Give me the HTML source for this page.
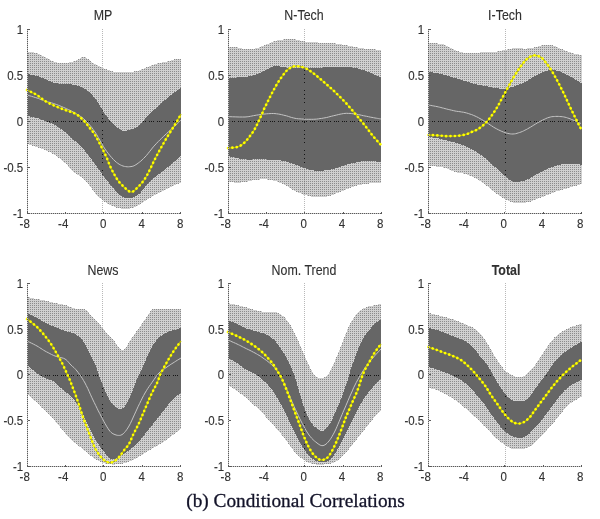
<!DOCTYPE html>
<html lang="en"><head><meta charset="utf-8"><title>Conditional Correlations</title>
<style>
html,body{margin:0;padding:0;background:#fff}
body{width:600px;height:519px;overflow:hidden}
svg{display:block}
.lb{fill:url(#dith);shape-rendering:crispEdges}
.db{fill:#666666;shape-rendering:crispEdges}
.zl{stroke:#151515;stroke-width:1;stroke-dasharray:1 1 1 1 1 3;shape-rendering:crispEdges}
.zv{stroke:#151515;stroke-width:1;stroke-dasharray:1 3 1 3 1 3 1 7;shape-rendering:crispEdges}
.vf{stroke:#000;stroke-opacity:.1;stroke-width:1;shape-rendering:crispEdges}
.vl{stroke:#000;stroke-opacity:.28;stroke-width:1;stroke-dasharray:1 1;shape-rendering:crispEdges}
.wl{fill:none;stroke:#c4c4c4;stroke-width:1}
.yl{fill:none;stroke:#b4b400;stroke-width:1.3;stroke-linejoin:round}
.yd{fill:none;stroke:#ffff00;stroke-width:2.7;stroke-linecap:round;stroke-linejoin:round;stroke-dasharray:0.01 4.4}
.ym{fill:#ffff00}
.ax{fill:none;stroke:#5a5a5a;stroke-width:1;stroke-dasharray:1 1;shape-rendering:crispEdges}
.au{fill:none;stroke:#c6c6c6;stroke-width:1;shape-rendering:crispEdges}
.tk{fill:none;stroke:#5a5a5a;stroke-width:1;shape-rendering:crispEdges}
.t{font-family:"Liberation Sans",sans-serif;font-size:11.5px;fill:#303030;stroke:#303030;stroke-width:.1}
.yt{text-anchor:end}
.xt{text-anchor:middle}
.ti{font-family:"Liberation Sans",sans-serif;font-size:12.4px;fill:#303030;stroke:#303030;stroke-width:.1;text-anchor:middle}
.b{font-weight:bold}
.cap{font-family:"Liberation Serif",serif;font-size:19.3px;fill:#121228;stroke:#121228;stroke-width:.3;text-anchor:middle}
</style></head><body>
<svg width="600" height="519" viewBox="0 0 600 519">
<defs><pattern id="dith" width="2" height="2" patternUnits="userSpaceOnUse"><rect width="2" height="2" fill="#d0d0d0"/><rect y="1" width="1" height="1" fill="#8c8c8c"/></pattern></defs>
<rect width="600" height="519" fill="#fff"/>
<g>
<line class="vl" x1="102.5" y1="29.0" x2="102.5" y2="213.0"/>
<polygon class="lb" points="27.0,52.0 28.1,52.1 29.7,52.1 31.5,52.2 33.4,52.4 35.3,52.6 37.0,53.0 38.4,53.5 39.7,54.1 41.0,54.8 42.3,55.5 43.6,56.2 45.0,57.0 46.6,57.8 48.2,58.7 49.9,59.7 51.6,60.6 53.3,61.4 55.0,62.0 56.7,62.4 58.3,62.7 60.0,62.9 61.7,63.0 63.3,63.1 65.0,63.0 66.7,62.9 68.4,62.6 70.1,62.3 71.7,61.9 73.4,61.5 75.0,61.0 76.6,60.3 78.1,59.4 79.6,58.5 81.0,57.7 82.5,57.1 84.0,57.0 85.5,57.4 87.0,58.3 88.4,59.4 89.9,60.7 91.4,61.9 93.0,63.0 94.6,63.9 96.3,64.8 97.9,65.7 99.6,66.5 101.3,67.3 103.0,68.0 104.7,68.7 106.4,69.4 108.1,70.0 109.8,70.6 111.4,71.1 113.0,71.5 114.4,71.8 115.6,71.9 116.8,72.0 118.0,72.0 119.3,72.0 121.0,72.0 123.0,72.0 125.4,72.0 127.9,71.9 130.4,71.8 132.8,71.7 135.0,71.4 136.9,71.0 138.6,70.5 140.2,69.9 141.8,69.3 143.4,68.6 145.0,68.0 146.7,67.3 148.3,66.6 150.0,65.9 151.7,65.2 153.3,64.6 155.0,64.0 156.7,63.6 158.3,63.2 160.0,62.9 161.7,62.6 163.3,62.3 165.0,62.0 166.7,61.6 168.5,61.1 170.2,60.6 172.0,60.1 173.6,59.7 175.0,59.4 176.3,59.2 177.5,59.1 178.6,59.0 179.6,59.0 180.4,59.0 181.0,59.0 181.0,183.0 180.4,183.2 179.6,183.4 178.6,183.7 177.5,184.0 176.3,184.5 175.0,185.0 173.6,185.7 172.0,186.4 170.2,187.3 168.5,188.2 166.7,189.1 165.0,190.0 163.3,190.8 161.7,191.6 160.0,192.4 158.3,193.3 156.7,194.1 155.0,195.0 153.3,195.9 151.7,196.9 150.0,197.9 148.3,199.0 146.7,200.0 145.0,201.0 143.3,202.0 141.7,203.1 140.0,204.2 138.3,205.3 136.7,206.2 135.0,207.0 133.3,207.6 131.7,208.1 130.0,208.5 128.3,208.8 126.7,208.9 125.0,209.0 123.3,208.9 121.7,208.7 120.0,208.4 118.3,208.0 116.7,207.6 115.0,207.0 113.3,206.4 111.7,205.7 110.0,204.9 108.3,204.1 106.7,203.1 105.0,202.0 103.3,200.8 101.7,199.4 100.0,198.0 98.3,196.4 96.7,194.8 95.0,193.0 93.3,191.0 91.7,188.7 90.0,186.4 88.3,184.0 86.7,181.9 85.0,180.0 83.3,178.5 81.7,177.3 80.0,176.3 78.3,175.3 76.7,174.3 75.0,173.0 73.3,171.5 71.7,169.8 70.0,168.1 68.3,166.3 66.7,164.6 65.0,163.0 63.3,161.5 61.7,160.1 60.0,158.7 58.3,157.4 56.7,156.1 55.0,155.0 53.3,154.0 51.6,153.0 49.9,152.2 48.2,151.4 46.6,150.7 45.0,150.0 43.6,149.4 42.3,148.9 41.0,148.4 39.7,147.9 38.4,147.5 37.0,147.0 35.3,146.5 33.4,145.9 31.5,145.3 29.7,144.8 28.1,144.3 27.0,144.0"/>
<line class="vf" x1="102.5" y1="68.6" x2="102.5" y2="198.7"/>
<polygon class="db" points="27.0,74.0 28.1,74.2 29.7,74.5 31.5,74.8 33.4,75.2 35.3,75.6 37.0,76.0 38.4,76.4 39.7,76.9 41.0,77.4 42.3,77.9 43.6,78.4 45.0,79.0 46.6,79.6 48.2,80.4 49.9,81.1 51.6,81.9 53.3,82.5 55.0,83.0 56.7,83.3 58.3,83.6 60.0,83.7 61.7,83.8 63.3,83.9 65.0,84.0 66.7,84.1 68.3,84.2 70.0,84.3 71.7,84.4 73.3,84.7 75.0,85.0 76.7,85.5 78.4,86.0 80.1,86.6 81.8,87.3 83.4,88.1 85.0,89.0 86.5,90.0 87.9,91.1 89.2,92.2 90.6,93.5 91.8,94.7 93.0,96.0 94.1,97.3 95.2,98.6 96.2,99.9 97.1,101.2 98.1,102.6 99.0,104.0 99.9,105.5 100.8,107.1 101.6,108.7 102.4,110.3 103.2,111.7 104.0,113.0 104.7,114.1 105.4,114.9 106.0,115.7 106.6,116.4 107.3,117.2 108.0,118.0 108.7,118.9 109.5,119.9 110.2,120.9 111.1,122.0 112.0,123.0 113.0,124.0 114.2,125.1 115.5,126.2 116.9,127.3 118.4,128.4 119.7,129.3 121.0,130.0 122.1,130.5 123.0,130.8 123.9,130.9 124.8,130.9 125.8,130.8 127.0,130.6 128.5,130.3 130.1,129.9 131.9,129.3 133.7,128.7 135.4,127.9 137.0,127.0 138.5,125.9 140.0,124.5 141.4,123.0 142.7,121.5 143.9,120.2 145.0,119.0 145.9,118.1 146.6,117.4 147.1,116.9 147.7,116.3 148.3,115.7 149.0,115.0 149.8,114.2 150.7,113.3 151.6,112.3 152.6,111.3 153.7,110.2 155.0,109.0 156.4,107.7 158.0,106.2 159.8,104.6 161.5,103.0 163.3,101.5 165.0,100.0 166.7,98.6 168.5,97.1 170.2,95.7 172.0,94.3 173.6,93.1 175.0,92.0 176.3,91.1 177.5,90.2 178.6,89.5 179.6,88.9 180.4,88.4 181.0,88.0 181.0,156.0 180.4,156.5 179.6,157.2 178.6,158.0 177.5,158.9 176.3,159.9 175.0,161.0 173.6,162.2 172.0,163.6 170.2,165.1 168.5,166.6 166.7,168.1 165.0,169.5 163.3,170.8 161.7,172.0 160.0,173.2 158.3,174.4 156.7,175.6 155.0,177.0 153.3,178.6 151.5,180.3 149.8,182.0 148.0,183.8 146.4,185.5 145.0,187.0 143.8,188.4 142.8,189.7 141.9,190.9 141.0,192.0 140.1,193.0 139.0,194.0 137.8,194.9 136.5,195.7 135.1,196.5 133.7,197.1 132.4,197.7 131.0,198.0 129.7,198.2 128.3,198.3 127.0,198.2 125.7,198.0 124.3,197.6 123.0,197.0 121.7,196.2 120.4,195.3 119.1,194.2 117.8,192.9 116.4,191.5 115.0,190.0 113.4,188.3 111.8,186.4 110.1,184.4 108.4,182.3 106.7,180.2 105.0,178.0 103.3,175.8 101.7,173.4 100.0,171.1 98.3,168.7 96.7,166.3 95.0,164.0 93.3,161.7 91.7,159.5 90.0,157.2 88.3,155.1 86.7,153.0 85.0,151.0 83.3,149.1 81.7,147.4 80.0,145.8 78.3,144.1 76.7,142.6 75.0,141.0 73.3,139.4 71.7,137.9 70.0,136.3 68.3,134.8 66.7,133.4 65.0,132.0 63.3,130.7 61.7,129.4 60.0,128.2 58.3,127.0 56.7,126.0 55.0,125.0 53.3,124.1 51.6,123.4 49.9,122.8 48.2,122.1 46.6,121.6 45.0,121.0 43.6,120.4 42.3,119.9 41.0,119.4 39.7,118.9 38.4,118.4 37.0,118.0 35.3,117.6 33.4,117.2 31.5,116.8 29.7,116.5 28.1,116.2 27.0,116.0"/>
<clipPath id="c1"><polygon points="27.0,74.0 28.1,74.2 29.7,74.5 31.5,74.8 33.4,75.2 35.3,75.6 37.0,76.0 38.4,76.4 39.7,76.9 41.0,77.4 42.3,77.9 43.6,78.4 45.0,79.0 46.6,79.6 48.2,80.4 49.9,81.1 51.6,81.9 53.3,82.5 55.0,83.0 56.7,83.3 58.3,83.6 60.0,83.7 61.7,83.8 63.3,83.9 65.0,84.0 66.7,84.1 68.3,84.2 70.0,84.3 71.7,84.4 73.3,84.7 75.0,85.0 76.7,85.5 78.4,86.0 80.1,86.6 81.8,87.3 83.4,88.1 85.0,89.0 86.5,90.0 87.9,91.1 89.2,92.2 90.6,93.5 91.8,94.7 93.0,96.0 94.1,97.3 95.2,98.6 96.2,99.9 97.1,101.2 98.1,102.6 99.0,104.0 99.9,105.5 100.8,107.1 101.6,108.7 102.4,110.3 103.2,111.7 104.0,113.0 104.7,114.1 105.4,114.9 106.0,115.7 106.6,116.4 107.3,117.2 108.0,118.0 108.7,118.9 109.5,119.9 110.2,120.9 111.1,122.0 112.0,123.0 113.0,124.0 114.2,125.1 115.5,126.2 116.9,127.3 118.4,128.4 119.7,129.3 121.0,130.0 122.1,130.5 123.0,130.8 123.9,130.9 124.8,130.9 125.8,130.8 127.0,130.6 128.5,130.3 130.1,129.9 131.9,129.3 133.7,128.7 135.4,127.9 137.0,127.0 138.5,125.9 140.0,124.5 141.4,123.0 142.7,121.5 143.9,120.2 145.0,119.0 145.9,118.1 146.6,117.4 147.1,116.9 147.7,116.3 148.3,115.7 149.0,115.0 149.8,114.2 150.7,113.3 151.6,112.3 152.6,111.3 153.7,110.2 155.0,109.0 156.4,107.7 158.0,106.2 159.8,104.6 161.5,103.0 163.3,101.5 165.0,100.0 166.7,98.6 168.5,97.1 170.2,95.7 172.0,94.3 173.6,93.1 175.0,92.0 176.3,91.1 177.5,90.2 178.6,89.5 179.6,88.9 180.4,88.4 181.0,88.0 181.0,156.0 180.4,156.5 179.6,157.2 178.6,158.0 177.5,158.9 176.3,159.9 175.0,161.0 173.6,162.2 172.0,163.6 170.2,165.1 168.5,166.6 166.7,168.1 165.0,169.5 163.3,170.8 161.7,172.0 160.0,173.2 158.3,174.4 156.7,175.6 155.0,177.0 153.3,178.6 151.5,180.3 149.8,182.0 148.0,183.8 146.4,185.5 145.0,187.0 143.8,188.4 142.8,189.7 141.9,190.9 141.0,192.0 140.1,193.0 139.0,194.0 137.8,194.9 136.5,195.7 135.1,196.5 133.7,197.1 132.4,197.7 131.0,198.0 129.7,198.2 128.3,198.3 127.0,198.2 125.7,198.0 124.3,197.6 123.0,197.0 121.7,196.2 120.4,195.3 119.1,194.2 117.8,192.9 116.4,191.5 115.0,190.0 113.4,188.3 111.8,186.4 110.1,184.4 108.4,182.3 106.7,180.2 105.0,178.0 103.3,175.8 101.7,173.4 100.0,171.1 98.3,168.7 96.7,166.3 95.0,164.0 93.3,161.7 91.7,159.5 90.0,157.2 88.3,155.1 86.7,153.0 85.0,151.0 83.3,149.1 81.7,147.4 80.0,145.8 78.3,144.1 76.7,142.6 75.0,141.0 73.3,139.4 71.7,137.9 70.0,136.3 68.3,134.8 66.7,133.4 65.0,132.0 63.3,130.7 61.7,129.4 60.0,128.2 58.3,127.0 56.7,126.0 55.0,125.0 53.3,124.1 51.6,123.4 49.9,122.8 48.2,122.1 46.6,121.6 45.0,121.0 43.6,120.4 42.3,119.9 41.0,119.4 39.7,118.9 38.4,118.4 37.0,118.0 35.3,117.6 33.4,117.2 31.5,116.8 29.7,116.5 28.1,116.2 27.0,116.0"/></clipPath>
<g clip-path="url(#c1)"><line class="zl" x1="29.0" y1="121.5" x2="181.0" y2="121.5"/><line class="zv" x1="102.5" y1="30.0" x2="102.5" y2="213.0"/></g>
<polyline class="wl" points="27.0,95.0 28.1,95.3 29.7,95.8 31.5,96.3 33.4,96.9 35.3,97.5 37.0,98.0 38.4,98.5 39.7,99.0 41.0,99.5 42.3,100.0 43.6,100.5 45.0,101.0 46.6,101.5 48.2,102.0 49.9,102.4 51.6,102.9 53.3,103.4 55.0,104.0 56.7,104.6 58.3,105.2 60.0,105.9 61.7,106.6 63.3,107.3 65.0,108.0 66.7,108.8 68.3,109.5 70.0,110.3 71.7,111.1 73.3,112.0 75.0,113.0 76.7,114.0 78.3,115.0 80.0,116.1 81.7,117.2 83.3,118.5 85.0,120.0 86.7,121.7 88.3,123.4 90.0,125.4 91.7,127.4 93.3,129.7 95.0,132.0 96.7,134.6 98.3,137.5 100.0,140.5 101.7,143.5 103.3,146.4 105.0,149.0 106.7,151.4 108.4,153.6 110.1,155.8 111.8,157.7 113.4,159.5 115.0,161.0 116.4,162.3 117.8,163.3 119.1,164.2 120.4,164.9 121.7,165.5 123.0,166.0 124.4,166.4 125.7,166.6 127.1,166.8 128.5,166.8 129.8,166.7 131.0,166.6 132.1,166.4 133.1,166.1 134.0,165.8 134.9,165.3 135.9,164.7 137.0,164.0 138.2,163.1 139.4,162.2 140.8,161.1 142.1,159.9 143.5,158.5 145.0,157.0 146.6,155.3 148.2,153.3 149.9,151.2 151.6,149.0 153.3,146.9 155.0,145.0 156.7,143.2 158.3,141.5 160.0,139.8 161.7,138.2 163.3,136.6 165.0,135.0 166.7,133.4 168.5,131.8 170.2,130.2 172.0,128.7 173.6,127.3 175.0,126.0 176.3,124.8 177.5,123.6 178.6,122.4 179.6,121.4 180.4,120.6 181.0,120.0"/>
<polyline class="yl" points="27.0,90.0 28.1,90.5 29.7,91.3 31.5,92.1 33.4,93.1 35.3,94.1 37.0,95.0 38.4,96.0 39.7,97.0 41.0,98.0 42.3,99.0 43.6,100.0 45.0,101.0 46.6,101.9 48.2,102.8 49.9,103.6 51.6,104.4 53.3,105.2 55.0,106.0 56.7,106.7 58.3,107.4 60.0,108.1 61.7,108.7 63.3,109.4 65.0,110.0 66.7,110.6 68.5,111.2 70.2,111.7 72.0,112.3 73.6,112.9 75.0,113.5 76.3,114.2 77.4,114.9 78.4,115.7 79.3,116.5 80.2,117.3 81.0,118.0 81.8,118.7 82.5,119.3 83.1,120.0 83.7,120.6 84.4,121.3 85.0,122.0 85.6,122.7 86.3,123.5 86.9,124.2 87.5,125.1 88.2,126.0 89.0,127.0 89.8,128.0 90.7,129.0 91.6,130.1 92.6,131.4 93.7,133.0 95.0,135.0 96.5,137.6 98.2,140.7 100.0,144.1 101.8,147.6 103.5,151.0 105.0,154.0 106.2,156.7 107.3,159.1 108.2,161.5 109.1,163.7 110.0,165.9 111.0,168.0 112.0,170.1 113.0,172.0 114.0,173.9 115.0,175.7 116.0,177.4 117.0,179.0 118.0,180.4 118.9,181.7 119.9,182.8 120.9,183.9 121.9,184.9 123.0,186.0 124.2,187.2 125.6,188.5 126.9,189.8 128.3,190.9 129.7,191.6 131.0,192.0 132.2,191.9 133.4,191.3 134.5,190.5 135.6,189.4 136.8,188.2 138.0,187.0 139.3,185.7 140.5,184.4 141.8,182.9 143.1,181.3 144.5,179.3 146.0,177.0 147.6,174.2 149.2,171.0 150.9,167.5 152.6,163.9 154.3,160.3 156.0,157.0 157.7,153.9 159.3,150.8 161.0,147.8 162.7,144.8 164.3,141.9 166.0,139.0 167.7,136.1 169.5,133.3 171.3,130.4 173.0,127.7 174.6,125.2 176.0,123.0 177.2,121.0 178.2,119.1 179.1,117.5 179.9,116.1 180.5,114.9 181.0,114.0"/>
<polyline class="yd" points="27.0,90.0 28.1,90.5 29.7,91.3 31.5,92.1 33.4,93.1 35.3,94.1 37.0,95.0 38.4,96.0 39.7,97.0 41.0,98.0 42.3,99.0 43.6,100.0 45.0,101.0 46.6,101.9 48.2,102.8 49.9,103.6 51.6,104.4 53.3,105.2 55.0,106.0 56.7,106.7 58.3,107.4 60.0,108.1 61.7,108.7 63.3,109.4 65.0,110.0 66.7,110.6 68.5,111.2 70.2,111.7 72.0,112.3 73.6,112.9 75.0,113.5 76.3,114.2 77.4,114.9 78.4,115.7 79.3,116.5 80.2,117.3 81.0,118.0 81.8,118.7 82.5,119.3 83.1,120.0 83.7,120.6 84.4,121.3 85.0,122.0 85.6,122.7 86.3,123.5 86.9,124.2 87.5,125.1 88.2,126.0 89.0,127.0 89.8,128.0 90.7,129.0 91.6,130.1 92.6,131.4 93.7,133.0 95.0,135.0 96.5,137.6 98.2,140.7 100.0,144.1 101.8,147.6 103.5,151.0 105.0,154.0 106.2,156.7 107.3,159.1 108.2,161.5 109.1,163.7 110.0,165.9 111.0,168.0 112.0,170.1 113.0,172.0 114.0,173.9 115.0,175.7 116.0,177.4 117.0,179.0 118.0,180.4 118.9,181.7 119.9,182.8 120.9,183.9 121.9,184.9 123.0,186.0 124.2,187.2 125.6,188.5 126.9,189.8 128.3,190.9 129.7,191.6 131.0,192.0 132.2,191.9 133.4,191.3 134.5,190.5 135.6,189.4 136.8,188.2 138.0,187.0 139.3,185.7 140.5,184.4 141.8,182.9 143.1,181.3 144.5,179.3 146.0,177.0 147.6,174.2 149.2,171.0 150.9,167.5 152.6,163.9 154.3,160.3 156.0,157.0 157.7,153.9 159.3,150.8 161.0,147.8 162.7,144.8 164.3,141.9 166.0,139.0 167.7,136.1 169.5,133.3 171.3,130.4 173.0,127.7 174.6,125.2 176.0,123.0 177.2,121.0 178.2,119.1 179.1,117.5 179.9,116.1 180.5,114.9 181.0,114.0"/>
<path class="au" d="M27.5 29.0V213.5H180.8"/>
<path class="ax" d="M27.5 29.0V213.5H180.8"/>
<path class="tk" d="M27.5 213.5v-2M27.5 29.5h2M65.5 213.5v-2M27.5 75.5h2M103.5 213.5v-2M27.5 121.5h2M142.5 213.5v-2M27.5 167.5h2M180.5 213.5v-2M27.5 213.5h2"/>
<text class="t yt" transform="translate(23.2 33.9) scale(1 1.14)">1</text>
<text class="t yt" transform="translate(23.2 79.9) scale(1 1.14)">0.5</text>
<text class="t yt" transform="translate(23.2 125.9) scale(1 1.14)">0</text>
<text class="t yt" transform="translate(23.2 171.9) scale(1 1.14)">-0.5</text>
<text class="t yt" transform="translate(23.2 217.9) scale(1 1.14)">-1</text>
<text class="t xt" transform="translate(24.7 228.0) scale(1 1.14)">-8</text>
<text class="t xt" transform="translate(63.2 228.0) scale(1 1.14)">-4</text>
<text class="t xt" transform="translate(103.2 228.0) scale(1 1.14)">0</text>
<text class="t xt" transform="translate(141.7 228.0) scale(1 1.14)">4</text>
<text class="t xt" transform="translate(180.2 228.0) scale(1 1.14)">8</text>
<text class="ti" transform="translate(103.0 20.1) scale(1 1.22)">MP</text>
</g>
<g>
<line class="vl" x1="304.5" y1="29.0" x2="304.5" y2="213.0"/>
<polygon class="lb" points="228.0,47.0 229.0,47.0 230.4,47.1 232.0,47.1 233.7,47.2 235.5,47.3 237.0,47.4 238.4,47.6 239.7,47.9 240.9,48.2 242.2,48.6 243.6,48.8 245.0,49.0 246.6,49.1 248.2,49.1 249.9,49.1 251.6,49.0 253.3,48.9 255.0,48.6 256.7,48.2 258.3,47.7 260.0,47.0 261.7,46.3 263.3,45.7 265.0,45.0 266.7,44.3 268.3,43.6 270.0,42.9 271.7,42.2 273.3,41.5 275.0,41.0 276.7,40.6 278.3,40.2 280.0,39.9 281.7,39.7 283.3,39.5 285.0,39.4 286.7,39.3 288.3,39.2 290.0,39.2 291.7,39.2 293.3,39.3 295.0,39.4 296.7,39.6 298.3,40.0 300.0,40.4 301.7,40.8 303.3,41.2 305.0,41.5 306.7,41.7 308.3,41.9 310.0,42.0 311.7,42.1 313.3,42.2 315.0,42.3 316.7,42.4 318.3,42.5 320.0,42.6 321.7,42.6 323.3,42.7 325.0,42.8 326.7,42.9 328.3,43.0 330.0,43.0 331.7,43.1 333.3,43.2 335.0,43.4 336.7,43.6 338.3,43.8 340.0,44.1 341.7,44.4 343.3,44.7 345.0,45.0 346.7,45.3 348.3,45.7 350.0,46.0 351.7,46.3 353.3,46.7 355.0,47.0 356.7,47.3 358.3,47.6 360.0,47.9 361.7,48.1 363.3,48.4 365.0,48.6 366.7,48.8 368.5,48.9 370.2,49.1 372.0,49.2 373.6,49.3 375.0,49.4 376.3,49.5 377.5,49.6 378.6,49.8 379.6,49.9 380.4,49.9 381.0,50.0 381.0,183.0 380.4,183.0 379.6,183.0 378.6,182.9 377.5,182.9 376.3,182.9 375.0,183.0 373.6,183.1 372.0,183.2 370.2,183.4 368.5,183.6 366.7,183.8 365.0,184.0 363.3,184.3 361.7,184.5 360.0,184.8 358.3,185.1 356.7,185.5 355.0,186.0 353.3,186.6 351.7,187.2 350.0,187.9 348.3,188.6 346.7,189.3 345.0,190.0 343.3,190.7 341.7,191.4 340.0,192.1 338.3,192.7 336.7,193.4 335.0,194.0 333.3,194.6 331.7,195.2 330.0,195.7 328.3,196.2 326.7,196.7 325.0,197.0 323.3,197.2 321.7,197.4 320.0,197.4 318.3,197.4 316.7,197.3 315.0,197.2 313.3,197.0 311.7,196.7 310.0,196.4 308.3,196.0 306.7,195.5 305.0,195.0 303.3,194.5 301.7,193.9 300.0,193.2 298.3,192.5 296.7,191.8 295.0,191.0 293.3,190.1 291.7,189.1 290.0,188.0 288.3,186.9 286.7,185.9 285.0,185.0 283.3,184.2 281.7,183.4 280.0,182.7 278.3,182.1 276.7,181.5 275.0,181.0 273.3,180.6 271.7,180.2 270.0,179.9 268.3,179.7 266.7,179.5 265.0,179.4 263.3,179.4 261.7,179.4 260.0,179.5 258.3,179.6 256.7,179.8 255.0,180.0 253.3,180.3 251.6,180.6 249.9,181.0 248.2,181.4 246.6,181.7 245.0,182.0 243.6,182.2 242.2,182.3 240.9,182.5 239.7,182.5 238.4,182.6 237.0,182.6 235.5,182.6 233.7,182.5 232.0,182.3 230.4,182.2 229.0,182.1 228.0,182.0"/>
<line class="vf" x1="304.5" y1="42.3" x2="304.5" y2="193.7"/>
<polygon class="db" points="228.0,78.0 229.0,77.9 230.4,77.9 232.0,77.8 233.7,77.7 235.5,77.6 237.0,77.5 238.4,77.4 239.7,77.4 240.9,77.3 242.2,77.3 243.6,77.2 245.0,77.0 246.6,76.8 248.2,76.5 249.9,76.2 251.6,75.9 253.3,75.5 255.0,75.0 256.7,74.4 258.3,73.7 260.0,72.9 261.7,72.1 263.3,71.3 265.0,70.5 266.7,69.7 268.3,68.8 270.0,67.9 271.7,67.1 273.3,66.4 275.0,66.0 276.7,65.9 278.3,66.1 280.0,66.4 281.7,66.8 283.3,67.1 285.0,67.4 286.7,67.6 288.3,67.7 290.0,67.8 291.7,67.9 293.3,67.9 295.0,68.0 296.7,68.0 298.3,68.0 300.0,68.0 301.7,68.0 303.3,68.0 305.0,68.0 306.7,68.0 308.3,68.0 310.0,68.0 311.7,68.0 313.3,68.0 315.0,68.0 316.7,67.9 318.3,67.9 320.0,67.8 321.7,67.6 323.3,67.5 325.0,67.4 326.7,67.3 328.3,67.1 330.0,67.0 331.7,66.8 333.3,66.7 335.0,66.6 336.7,66.5 338.3,66.5 340.0,66.5 341.7,66.5 343.3,66.5 345.0,66.6 346.7,66.7 348.3,66.9 350.0,67.1 351.7,67.4 353.3,67.7 355.0,68.0 356.7,68.3 358.3,68.7 360.0,69.1 361.7,69.6 363.3,70.0 365.0,70.6 366.7,71.3 368.5,72.0 370.2,72.8 372.0,73.6 373.6,74.4 375.0,75.0 376.3,75.5 377.5,76.0 378.6,76.5 379.6,76.9 380.4,77.2 381.0,77.4 381.0,162.0 380.4,161.9 379.6,161.8 378.6,161.7 377.5,161.6 376.3,161.5 375.0,161.4 373.6,161.3 372.0,161.2 370.2,161.1 368.5,161.0 366.7,160.9 365.0,161.0 363.3,161.1 361.7,161.4 360.0,161.6 358.3,161.9 356.7,162.3 355.0,162.6 353.3,162.9 351.7,163.3 350.0,163.7 348.3,164.1 346.7,164.5 345.0,165.0 343.3,165.6 341.7,166.2 340.0,166.8 338.3,167.5 336.7,168.1 335.0,168.6 333.3,169.0 331.7,169.4 330.0,169.7 328.3,170.0 326.7,170.2 325.0,170.4 323.3,170.6 321.7,170.7 320.0,170.8 318.3,170.8 316.7,170.7 315.0,170.6 313.3,170.4 311.7,170.1 310.0,169.7 308.3,169.3 306.7,168.8 305.0,168.3 303.3,167.7 301.7,167.1 300.0,166.5 298.3,165.8 296.7,165.1 295.0,164.5 293.3,163.9 291.7,163.3 290.0,162.7 288.3,162.1 286.7,161.6 285.0,161.2 283.3,160.9 281.7,160.6 280.0,160.4 278.3,160.3 276.7,160.1 275.0,160.0 273.3,159.9 271.7,159.7 270.0,159.6 268.3,159.5 266.7,159.5 265.0,159.4 263.3,159.4 261.7,159.4 260.0,159.4 258.3,159.4 256.7,159.4 255.0,159.4 253.3,159.4 251.6,159.5 249.9,159.5 248.2,159.5 246.6,159.5 245.0,159.4 243.6,159.3 242.2,159.1 240.9,158.8 239.7,158.6 238.4,158.3 237.0,158.0 235.5,157.7 233.7,157.3 232.0,156.9 230.4,156.5 229.0,156.2 228.0,156.0"/>
<clipPath id="c2"><polygon points="228.0,78.0 229.0,77.9 230.4,77.9 232.0,77.8 233.7,77.7 235.5,77.6 237.0,77.5 238.4,77.4 239.7,77.4 240.9,77.3 242.2,77.3 243.6,77.2 245.0,77.0 246.6,76.8 248.2,76.5 249.9,76.2 251.6,75.9 253.3,75.5 255.0,75.0 256.7,74.4 258.3,73.7 260.0,72.9 261.7,72.1 263.3,71.3 265.0,70.5 266.7,69.7 268.3,68.8 270.0,67.9 271.7,67.1 273.3,66.4 275.0,66.0 276.7,65.9 278.3,66.1 280.0,66.4 281.7,66.8 283.3,67.1 285.0,67.4 286.7,67.6 288.3,67.7 290.0,67.8 291.7,67.9 293.3,67.9 295.0,68.0 296.7,68.0 298.3,68.0 300.0,68.0 301.7,68.0 303.3,68.0 305.0,68.0 306.7,68.0 308.3,68.0 310.0,68.0 311.7,68.0 313.3,68.0 315.0,68.0 316.7,67.9 318.3,67.9 320.0,67.8 321.7,67.6 323.3,67.5 325.0,67.4 326.7,67.3 328.3,67.1 330.0,67.0 331.7,66.8 333.3,66.7 335.0,66.6 336.7,66.5 338.3,66.5 340.0,66.5 341.7,66.5 343.3,66.5 345.0,66.6 346.7,66.7 348.3,66.9 350.0,67.1 351.7,67.4 353.3,67.7 355.0,68.0 356.7,68.3 358.3,68.7 360.0,69.1 361.7,69.6 363.3,70.0 365.0,70.6 366.7,71.3 368.5,72.0 370.2,72.8 372.0,73.6 373.6,74.4 375.0,75.0 376.3,75.5 377.5,76.0 378.6,76.5 379.6,76.9 380.4,77.2 381.0,77.4 381.0,162.0 380.4,161.9 379.6,161.8 378.6,161.7 377.5,161.6 376.3,161.5 375.0,161.4 373.6,161.3 372.0,161.2 370.2,161.1 368.5,161.0 366.7,160.9 365.0,161.0 363.3,161.1 361.7,161.4 360.0,161.6 358.3,161.9 356.7,162.3 355.0,162.6 353.3,162.9 351.7,163.3 350.0,163.7 348.3,164.1 346.7,164.5 345.0,165.0 343.3,165.6 341.7,166.2 340.0,166.8 338.3,167.5 336.7,168.1 335.0,168.6 333.3,169.0 331.7,169.4 330.0,169.7 328.3,170.0 326.7,170.2 325.0,170.4 323.3,170.6 321.7,170.7 320.0,170.8 318.3,170.8 316.7,170.7 315.0,170.6 313.3,170.4 311.7,170.1 310.0,169.7 308.3,169.3 306.7,168.8 305.0,168.3 303.3,167.7 301.7,167.1 300.0,166.5 298.3,165.8 296.7,165.1 295.0,164.5 293.3,163.9 291.7,163.3 290.0,162.7 288.3,162.1 286.7,161.6 285.0,161.2 283.3,160.9 281.7,160.6 280.0,160.4 278.3,160.3 276.7,160.1 275.0,160.0 273.3,159.9 271.7,159.7 270.0,159.6 268.3,159.5 266.7,159.5 265.0,159.4 263.3,159.4 261.7,159.4 260.0,159.4 258.3,159.4 256.7,159.4 255.0,159.4 253.3,159.4 251.6,159.5 249.9,159.5 248.2,159.5 246.6,159.5 245.0,159.4 243.6,159.3 242.2,159.1 240.9,158.8 239.7,158.6 238.4,158.3 237.0,158.0 235.5,157.7 233.7,157.3 232.0,156.9 230.4,156.5 229.0,156.2 228.0,156.0"/></clipPath>
<g clip-path="url(#c2)"><line class="zl" x1="230.0" y1="121.5" x2="381.0" y2="121.5"/><line class="zv" x1="304.5" y1="30.0" x2="304.5" y2="213.0"/></g>
<polyline class="wl" points="228.0,116.6 229.9,116.7 232.7,116.8 235.9,116.9 239.2,117.0 242.4,117.0 245.0,117.0 247.1,116.8 248.9,116.6 250.4,116.3 251.9,116.0 253.4,115.7 255.0,115.4 256.7,115.1 258.3,114.9 260.0,114.6 261.7,114.4 263.3,114.2 265.0,114.0 266.7,113.8 268.3,113.7 270.0,113.6 271.7,113.5 273.3,113.5 275.0,113.6 276.7,113.8 278.3,114.0 280.0,114.3 281.7,114.7 283.3,115.1 285.0,115.5 286.7,115.9 288.3,116.4 290.0,117.0 291.7,117.5 293.3,117.9 295.0,118.3 296.7,118.6 298.3,118.8 300.0,118.9 301.7,119.0 303.3,119.1 305.0,119.2 306.7,119.3 308.3,119.3 310.0,119.3 311.7,119.3 313.3,119.3 315.0,119.2 316.7,119.1 318.3,118.9 320.0,118.6 321.7,118.4 323.3,118.1 325.0,117.8 326.7,117.5 328.3,117.1 330.0,116.6 331.7,116.2 333.3,115.8 335.0,115.4 336.7,115.0 338.3,114.6 340.0,114.2 341.7,113.9 343.3,113.6 345.0,113.4 346.7,113.3 348.3,113.4 350.0,113.4 351.7,113.6 353.3,113.8 355.0,114.0 356.7,114.3 358.3,114.6 360.0,114.9 361.7,115.3 363.3,115.7 365.0,116.0 366.7,116.3 368.5,116.7 370.2,117.1 372.0,117.4 373.6,117.7 375.0,118.0 376.3,118.2 377.5,118.4 378.6,118.6 379.6,118.8 380.4,118.9 381.0,119.0"/>
<polyline class="yl" points="228.0,148.0 228.8,147.9 229.9,147.9 231.2,147.8 232.6,147.7 233.9,147.6 235.0,147.4 235.9,147.2 236.8,147.1 237.6,146.9 238.4,146.7 239.2,146.4 240.0,146.0 240.8,145.5 241.7,144.9 242.5,144.3 243.3,143.6 244.2,142.8 245.0,142.0 245.8,141.1 246.7,140.2 247.5,139.2 248.3,138.2 249.2,137.1 250.0,136.0 250.8,134.9 251.6,133.8 252.4,132.7 253.3,131.4 254.1,130.1 255.0,128.5 256.0,126.7 257.0,124.6 258.1,122.3 259.1,120.1 260.1,117.9 261.0,116.0 261.8,114.3 262.4,112.9 263.0,111.5 263.6,110.1 264.2,108.6 265.0,107.0 265.9,105.2 266.9,103.2 267.9,101.1 268.9,99.0 270.0,97.0 271.0,95.0 272.0,93.1 272.9,91.3 273.9,89.5 274.9,87.7 275.9,85.9 277.0,84.0 278.2,82.0 279.6,80.0 281.0,77.9 282.4,75.9 283.8,74.1 285.0,72.5 286.1,71.2 287.1,70.2 288.1,69.3 289.1,68.6 290.0,68.0 291.0,67.4 292.0,66.9 292.9,66.6 293.9,66.4 294.9,66.2 295.9,66.2 297.0,66.2 298.2,66.3 299.5,66.5 300.9,66.7 302.3,67.1 303.6,67.5 305.0,68.0 306.3,68.6 307.7,69.4 309.0,70.2 310.3,71.1 311.7,72.0 313.0,73.0 314.3,74.0 315.7,75.0 317.0,76.1 318.3,77.2 319.7,78.4 321.0,79.5 322.4,80.7 323.7,81.9 325.1,83.1 326.5,84.3 327.8,85.4 329.0,86.5 330.1,87.5 331.0,88.3 331.9,89.1 332.8,89.9 333.8,90.8 335.0,92.0 336.4,93.4 338.0,94.9 339.8,96.6 341.5,98.4 343.3,100.2 345.0,102.0 346.7,103.8 348.3,105.7 350.0,107.6 351.7,109.6 353.3,111.5 355.0,113.5 356.7,115.5 358.4,117.5 360.1,119.6 361.8,121.6 363.4,123.6 365.0,125.5 366.4,127.4 367.8,129.2 369.1,130.9 370.4,132.7 371.7,134.4 373.0,136.0 374.4,137.7 376.0,139.4 377.5,141.2 378.9,142.7 380.1,144.0 381.0,145.0"/>
<polyline class="yd" points="228.0,148.0 228.8,147.9 229.9,147.9 231.2,147.8 232.6,147.7 233.9,147.6 235.0,147.4 235.9,147.2 236.8,147.1 237.6,146.9 238.4,146.7 239.2,146.4 240.0,146.0 240.8,145.5 241.7,144.9 242.5,144.3 243.3,143.6 244.2,142.8 245.0,142.0 245.8,141.1 246.7,140.2 247.5,139.2 248.3,138.2 249.2,137.1 250.0,136.0 250.8,134.9 251.6,133.8 252.4,132.7 253.3,131.4 254.1,130.1 255.0,128.5 256.0,126.7 257.0,124.6 258.1,122.3 259.1,120.1 260.1,117.9 261.0,116.0 261.8,114.3 262.4,112.9 263.0,111.5 263.6,110.1 264.2,108.6 265.0,107.0 265.9,105.2 266.9,103.2 267.9,101.1 268.9,99.0 270.0,97.0 271.0,95.0 272.0,93.1 272.9,91.3 273.9,89.5 274.9,87.7 275.9,85.9 277.0,84.0 278.2,82.0 279.6,80.0 281.0,77.9 282.4,75.9 283.8,74.1 285.0,72.5 286.1,71.2 287.1,70.2 288.1,69.3 289.1,68.6 290.0,68.0 291.0,67.4 292.0,66.9 292.9,66.6 293.9,66.4 294.9,66.2 295.9,66.2 297.0,66.2 298.2,66.3 299.5,66.5 300.9,66.7 302.3,67.1 303.6,67.5 305.0,68.0 306.3,68.6 307.7,69.4 309.0,70.2 310.3,71.1 311.7,72.0 313.0,73.0 314.3,74.0 315.7,75.0 317.0,76.1 318.3,77.2 319.7,78.4 321.0,79.5 322.4,80.7 323.7,81.9 325.1,83.1 326.5,84.3 327.8,85.4 329.0,86.5 330.1,87.5 331.0,88.3 331.9,89.1 332.8,89.9 333.8,90.8 335.0,92.0 336.4,93.4 338.0,94.9 339.8,96.6 341.5,98.4 343.3,100.2 345.0,102.0 346.7,103.8 348.3,105.7 350.0,107.6 351.7,109.6 353.3,111.5 355.0,113.5 356.7,115.5 358.4,117.5 360.1,119.6 361.8,121.6 363.4,123.6 365.0,125.5 366.4,127.4 367.8,129.2 369.1,130.9 370.4,132.7 371.7,134.4 373.0,136.0 374.4,137.7 376.0,139.4 377.5,141.2 378.9,142.7 380.1,144.0 381.0,145.0"/>
<path class="au" d="M228.5 29.0V213.5H380.8"/>
<path class="ax" d="M228.5 29.0V213.5H380.8"/>
<path class="tk" d="M228.5 213.5v-2M228.5 29.5h2M266.5 213.5v-2M228.5 75.5h2M304.5 213.5v-2M228.5 121.5h2M343.5 213.5v-2M228.5 167.5h2M381.5 213.5v-2M228.5 213.5h2"/>
<text class="t yt" transform="translate(224.2 33.9) scale(1 1.14)">1</text>
<text class="t yt" transform="translate(224.2 79.9) scale(1 1.14)">0.5</text>
<text class="t yt" transform="translate(224.2 125.9) scale(1 1.14)">0</text>
<text class="t yt" transform="translate(224.2 171.9) scale(1 1.14)">-0.5</text>
<text class="t yt" transform="translate(224.2 217.9) scale(1 1.14)">-1</text>
<text class="t xt" transform="translate(225.7 228.0) scale(1 1.14)">-8</text>
<text class="t xt" transform="translate(263.9 228.0) scale(1 1.14)">-4</text>
<text class="t xt" transform="translate(303.7 228.0) scale(1 1.14)">0</text>
<text class="t xt" transform="translate(341.9 228.0) scale(1 1.14)">4</text>
<text class="t xt" transform="translate(380.2 228.0) scale(1 1.14)">8</text>
<text class="ti" transform="translate(304.0 20.1) scale(1 1.22)">N-Tech</text>
</g>
<g>
<line class="vl" x1="505.5" y1="29.0" x2="505.5" y2="213.0"/>
<polygon class="lb" points="428.5,43.4 429.4,43.4 430.7,43.3 432.2,43.3 433.9,43.3 435.5,43.3 437.0,43.4 438.3,43.5 439.6,43.7 440.9,43.9 442.2,44.2 443.6,44.5 445.0,45.0 446.6,45.7 448.2,46.5 449.9,47.4 451.6,48.4 453.3,49.2 455.0,50.0 456.7,50.7 458.3,51.3 460.0,51.8 461.7,52.3 463.3,52.7 465.0,53.0 466.7,53.2 468.3,53.3 470.0,53.2 471.7,53.2 473.3,53.1 475.0,53.0 476.7,52.9 478.3,52.7 480.0,52.5 481.7,52.3 483.3,52.1 485.0,52.0 486.7,51.9 488.3,51.9 490.0,51.9 491.7,51.9 493.3,51.8 495.0,51.7 496.7,51.5 498.3,51.2 500.0,51.0 501.7,50.6 503.3,50.3 505.0,50.0 506.7,49.7 508.3,49.3 510.0,48.9 511.7,48.5 513.3,48.2 515.0,48.0 516.7,48.0 518.3,48.1 520.0,48.3 521.7,48.4 523.3,48.6 525.0,48.6 526.7,48.5 528.4,48.4 530.1,48.2 531.8,48.0 533.4,47.7 535.0,47.4 536.4,47.0 537.8,46.6 539.1,46.1 540.4,45.7 541.7,45.3 543.0,45.0 544.3,44.8 545.7,44.7 547.0,44.7 548.3,44.7 549.7,44.8 551.0,45.0 552.3,45.3 553.6,45.7 554.9,46.2 556.2,46.8 557.6,47.4 559.0,48.0 560.5,48.6 562.1,49.3 563.8,50.0 565.4,50.7 567.2,51.4 569.0,52.0 571.0,52.6 573.3,53.2 575.6,53.8 577.8,54.3 579.7,54.7 581.6,55.0 581.6,184.0 580.4,184.2 579.6,184.5 578.6,184.8 577.5,185.2 576.3,185.6 575.0,186.0 573.6,186.4 572.0,186.9 570.2,187.4 568.5,188.0 566.7,188.5 565.0,189.0 563.3,189.5 561.7,190.0 560.0,190.4 558.3,190.9 556.7,191.4 555.0,192.0 553.3,192.6 551.6,193.3 549.9,194.0 548.2,194.7 546.6,195.4 545.0,196.0 543.6,196.6 542.2,197.1 540.9,197.6 539.6,198.0 538.3,198.5 537.0,199.0 535.7,199.5 534.3,200.1 533.0,200.6 531.7,201.1 530.3,201.6 529.0,202.0 527.7,202.3 526.3,202.5 525.0,202.7 523.7,202.8 522.3,202.9 521.0,203.0 519.7,203.1 518.3,203.1 517.0,203.1 515.7,203.0 514.3,202.9 513.0,202.6 511.7,202.2 510.4,201.7 509.1,201.2 507.8,200.5 506.4,199.8 505.0,199.0 503.4,198.1 501.8,197.1 500.1,196.0 498.4,194.9 496.7,193.7 495.0,192.5 493.3,191.2 491.7,189.9 490.0,188.5 488.3,187.1 486.7,185.8 485.0,184.5 483.3,183.3 481.7,182.1 480.0,181.0 478.3,179.9 476.7,178.9 475.0,178.0 473.3,177.2 471.7,176.4 470.0,175.7 468.3,175.1 466.7,174.5 465.0,174.0 463.3,173.6 461.7,173.3 460.0,173.0 458.3,172.7 456.7,172.4 455.0,172.0 453.3,171.4 451.6,170.7 449.9,170.0 448.2,169.2 446.6,168.5 445.0,168.0 443.6,167.6 442.2,167.3 440.9,167.1 439.6,166.9 438.3,166.8 437.0,166.6 435.5,166.4 433.9,166.3 432.2,166.2 430.7,166.1 429.4,166.1 428.5,166.0"/>
<line class="vf" x1="505.5" y1="51.0" x2="505.5" y2="198.0"/>
<polygon class="db" points="428.5,72.0 429.4,72.1 430.7,72.2 432.2,72.4 433.9,72.6 435.5,72.8 437.0,73.0 438.3,73.3 439.6,73.6 440.9,73.9 442.2,74.2 443.6,74.6 445.0,75.0 446.6,75.4 448.2,75.9 449.9,76.4 451.6,77.0 453.3,77.5 455.0,78.0 456.7,78.5 458.3,79.0 460.0,79.5 461.7,80.0 463.3,80.5 465.0,81.0 466.7,81.5 468.3,82.0 470.0,82.6 471.7,83.1 473.3,83.6 475.0,84.0 476.7,84.4 478.3,84.7 480.0,85.1 481.7,85.4 483.3,85.7 485.0,86.0 486.7,86.3 488.3,86.7 490.0,87.1 491.7,87.4 493.3,87.7 495.0,88.0 496.7,88.2 498.3,88.4 500.0,88.6 501.7,88.7 503.3,88.7 505.0,88.6 506.7,88.4 508.3,88.0 510.0,87.6 511.7,87.1 513.3,86.6 515.0,86.0 516.7,85.4 518.3,84.8 520.0,84.2 521.7,83.5 523.3,82.8 525.0,82.0 526.7,81.1 528.3,80.1 530.0,79.0 531.7,78.0 533.3,76.9 535.0,76.0 536.7,75.1 538.4,74.2 540.1,73.4 541.8,72.6 543.4,72.0 545.0,71.4 546.4,70.9 547.8,70.6 549.1,70.3 550.4,70.1 551.7,70.0 553.0,70.0 554.3,70.1 555.6,70.3 556.9,70.6 558.2,71.0 559.6,71.5 561.0,72.0 562.6,72.6 564.2,73.4 565.9,74.2 567.6,75.1 569.3,76.1 571.0,77.0 572.8,78.0 574.7,79.1 576.6,80.3 578.4,81.4 579.9,82.3 581.6,83.0 581.6,164.6 580.4,164.5 579.6,164.4 578.6,164.3 577.5,164.2 576.3,164.1 575.0,164.0 573.6,163.9 572.0,163.9 570.2,163.8 568.5,163.8 566.7,163.9 565.0,164.0 563.3,164.2 561.7,164.4 560.0,164.8 558.3,165.1 556.7,165.5 555.0,166.0 553.3,166.6 551.6,167.2 549.9,167.9 548.2,168.6 546.6,169.3 545.0,170.0 543.6,170.7 542.2,171.3 540.9,171.9 539.6,172.6 538.3,173.3 537.0,174.0 535.7,174.8 534.3,175.6 533.0,176.5 531.7,177.3 530.3,178.1 529.0,178.8 527.7,179.4 526.3,179.9 525.0,180.4 523.7,180.8 522.3,181.1 521.0,181.4 519.7,181.6 518.3,181.8 517.0,181.9 515.7,181.9 514.3,181.7 513.0,181.4 511.7,180.9 510.4,180.1 509.1,179.3 507.8,178.3 506.4,177.2 505.0,176.0 503.4,174.7 501.8,173.3 500.1,171.7 498.4,170.1 496.7,168.5 495.0,167.0 493.3,165.5 491.7,163.9 490.0,162.4 488.3,160.9 486.7,159.4 485.0,158.0 483.3,156.7 481.7,155.4 480.0,154.2 478.3,153.1 476.7,152.0 475.0,151.0 473.3,150.0 471.7,149.1 470.0,148.3 468.3,147.5 466.7,146.7 465.0,146.0 463.3,145.3 461.7,144.7 460.0,144.1 458.3,143.6 456.7,143.1 455.0,142.6 453.3,142.1 451.6,141.7 449.9,141.2 448.2,140.8 446.6,140.4 445.0,140.0 443.6,139.6 442.2,139.3 440.9,138.9 439.6,138.6 438.3,138.3 437.0,138.0 435.5,137.8 433.9,137.6 432.2,137.4 430.7,137.2 429.4,137.1 428.5,137.0"/>
<clipPath id="c3"><polygon points="428.5,72.0 429.4,72.1 430.7,72.2 432.2,72.4 433.9,72.6 435.5,72.8 437.0,73.0 438.3,73.3 439.6,73.6 440.9,73.9 442.2,74.2 443.6,74.6 445.0,75.0 446.6,75.4 448.2,75.9 449.9,76.4 451.6,77.0 453.3,77.5 455.0,78.0 456.7,78.5 458.3,79.0 460.0,79.5 461.7,80.0 463.3,80.5 465.0,81.0 466.7,81.5 468.3,82.0 470.0,82.6 471.7,83.1 473.3,83.6 475.0,84.0 476.7,84.4 478.3,84.7 480.0,85.1 481.7,85.4 483.3,85.7 485.0,86.0 486.7,86.3 488.3,86.7 490.0,87.1 491.7,87.4 493.3,87.7 495.0,88.0 496.7,88.2 498.3,88.4 500.0,88.6 501.7,88.7 503.3,88.7 505.0,88.6 506.7,88.4 508.3,88.0 510.0,87.6 511.7,87.1 513.3,86.6 515.0,86.0 516.7,85.4 518.3,84.8 520.0,84.2 521.7,83.5 523.3,82.8 525.0,82.0 526.7,81.1 528.3,80.1 530.0,79.0 531.7,78.0 533.3,76.9 535.0,76.0 536.7,75.1 538.4,74.2 540.1,73.4 541.8,72.6 543.4,72.0 545.0,71.4 546.4,70.9 547.8,70.6 549.1,70.3 550.4,70.1 551.7,70.0 553.0,70.0 554.3,70.1 555.6,70.3 556.9,70.6 558.2,71.0 559.6,71.5 561.0,72.0 562.6,72.6 564.2,73.4 565.9,74.2 567.6,75.1 569.3,76.1 571.0,77.0 572.8,78.0 574.7,79.1 576.6,80.3 578.4,81.4 579.9,82.3 581.6,83.0 581.6,164.6 580.4,164.5 579.6,164.4 578.6,164.3 577.5,164.2 576.3,164.1 575.0,164.0 573.6,163.9 572.0,163.9 570.2,163.8 568.5,163.8 566.7,163.9 565.0,164.0 563.3,164.2 561.7,164.4 560.0,164.8 558.3,165.1 556.7,165.5 555.0,166.0 553.3,166.6 551.6,167.2 549.9,167.9 548.2,168.6 546.6,169.3 545.0,170.0 543.6,170.7 542.2,171.3 540.9,171.9 539.6,172.6 538.3,173.3 537.0,174.0 535.7,174.8 534.3,175.6 533.0,176.5 531.7,177.3 530.3,178.1 529.0,178.8 527.7,179.4 526.3,179.9 525.0,180.4 523.7,180.8 522.3,181.1 521.0,181.4 519.7,181.6 518.3,181.8 517.0,181.9 515.7,181.9 514.3,181.7 513.0,181.4 511.7,180.9 510.4,180.1 509.1,179.3 507.8,178.3 506.4,177.2 505.0,176.0 503.4,174.7 501.8,173.3 500.1,171.7 498.4,170.1 496.7,168.5 495.0,167.0 493.3,165.5 491.7,163.9 490.0,162.4 488.3,160.9 486.7,159.4 485.0,158.0 483.3,156.7 481.7,155.4 480.0,154.2 478.3,153.1 476.7,152.0 475.0,151.0 473.3,150.0 471.7,149.1 470.0,148.3 468.3,147.5 466.7,146.7 465.0,146.0 463.3,145.3 461.7,144.7 460.0,144.1 458.3,143.6 456.7,143.1 455.0,142.6 453.3,142.1 451.6,141.7 449.9,141.2 448.2,140.8 446.6,140.4 445.0,140.0 443.6,139.6 442.2,139.3 440.9,138.9 439.6,138.6 438.3,138.3 437.0,138.0 435.5,137.8 433.9,137.6 432.2,137.4 430.7,137.2 429.4,137.1 428.5,137.0"/></clipPath>
<g clip-path="url(#c3)"><line class="zl" x1="430.0" y1="121.5" x2="581.0" y2="121.5"/><line class="zv" x1="505.5" y1="30.0" x2="505.5" y2="213.0"/></g>
<polyline class="wl" points="428.5,105.0 429.4,105.2 430.7,105.4 432.2,105.7 433.9,106.0 435.5,106.3 437.0,106.6 438.3,106.9 439.6,107.2 440.9,107.5 442.2,107.9 443.6,108.2 445.0,108.6 446.6,109.0 448.2,109.4 449.9,109.8 451.6,110.2 453.3,110.6 455.0,111.0 456.7,111.3 458.3,111.5 460.0,111.7 461.7,112.0 463.3,112.2 465.0,112.6 466.7,113.0 468.3,113.5 470.0,114.1 471.7,114.6 473.3,115.3 475.0,116.0 476.7,116.8 478.3,117.6 480.0,118.6 481.7,119.5 483.3,120.5 485.0,121.5 486.7,122.5 488.3,123.7 490.0,124.8 491.7,125.9 493.3,127.0 495.0,128.0 496.7,128.9 498.4,129.8 500.1,130.6 501.8,131.4 503.4,132.0 505.0,132.6 506.4,133.1 507.8,133.4 509.1,133.7 510.4,133.9 511.7,134.0 513.0,134.0 514.3,133.9 515.7,133.7 517.0,133.3 518.3,132.9 519.7,132.5 521.0,132.0 522.3,131.5 523.6,130.9 524.9,130.2 526.2,129.6 527.6,128.8 529.0,128.0 530.6,127.1 532.2,126.1 533.9,125.0 535.6,124.0 537.3,122.9 539.0,122.0 540.7,121.1 542.4,120.2 544.1,119.4 545.8,118.6 547.4,117.9 549.0,117.4 550.4,117.0 551.8,116.7 553.1,116.6 554.4,116.5 555.7,116.4 557.0,116.4 558.3,116.4 559.7,116.5 561.0,116.6 562.3,116.7 563.7,116.9 565.0,117.2 566.3,117.5 567.7,118.0 569.0,118.4 570.3,118.9 571.7,119.5 573.0,120.0 574.4,120.6 576.0,121.2 577.5,121.9 578.9,122.6 580.1,123.1 581.0,123.5"/>
<polyline class="yl" points="428.5,135.0 429.4,135.0 430.7,135.1 432.2,135.2 433.9,135.2 435.5,135.3 437.0,135.4 438.3,135.5 439.6,135.6 440.9,135.7 442.2,135.8 443.6,135.9 445.0,136.0 446.6,136.1 448.2,136.1 449.9,136.1 451.6,136.1 453.3,136.1 455.0,136.0 456.7,135.9 458.4,135.7 460.1,135.5 461.8,135.3 463.4,135.0 465.0,134.6 466.5,134.2 467.9,133.7 469.2,133.1 470.6,132.5 471.8,131.9 473.0,131.4 474.1,130.9 475.1,130.5 476.1,130.1 477.1,129.6 478.0,129.1 479.0,128.5 480.0,127.8 481.0,127.1 482.0,126.3 483.0,125.4 484.0,124.5 485.0,123.5 486.0,122.5 487.0,121.4 488.0,120.2 489.0,119.1 490.0,117.8 491.0,116.5 492.0,115.1 493.0,113.7 494.0,112.2 495.0,110.7 496.0,109.1 497.0,107.5 498.0,105.8 499.0,104.0 500.0,102.1 501.0,100.2 502.0,98.4 503.0,96.5 504.0,94.7 505.0,92.8 506.0,91.0 507.0,89.1 508.0,87.3 509.0,85.5 510.0,83.7 511.0,81.9 512.0,80.1 513.0,78.4 514.0,76.7 515.0,75.0 516.0,73.4 517.0,71.8 518.0,70.3 519.0,68.8 520.0,67.4 521.0,66.0 522.0,64.7 523.0,63.4 523.9,62.2 524.9,61.0 525.9,59.9 527.0,59.0 528.1,58.1 529.3,57.3 530.4,56.6 531.6,56.1 532.8,55.6 534.0,55.4 535.2,55.4 536.4,55.5 537.6,55.8 538.7,56.2 539.9,56.7 541.0,57.4 542.1,58.2 543.1,59.2 544.1,60.3 545.0,61.5 546.0,62.7 547.0,64.0 548.0,65.3 549.0,66.7 550.0,68.2 551.0,69.8 552.0,71.4 553.0,73.0 554.0,74.7 555.0,76.5 556.0,78.3 557.0,80.2 558.0,82.1 559.0,84.0 560.0,85.9 561.0,87.9 562.0,89.9 563.0,91.9 564.0,93.9 565.0,96.0 566.0,98.1 567.0,100.3 568.0,102.5 569.0,104.7 570.0,106.9 571.0,109.0 572.0,111.1 573.1,113.2 574.1,115.3 575.1,117.3 576.1,119.2 577.0,121.0 577.8,122.7 578.6,124.3 579.4,125.8 580.0,127.1 580.6,128.2 581.0,129.0"/>
<polyline class="yd" points="428.5,135.0 429.4,135.0 430.7,135.1 432.2,135.2 433.9,135.2 435.5,135.3 437.0,135.4 438.3,135.5 439.6,135.6 440.9,135.7 442.2,135.8 443.6,135.9 445.0,136.0 446.6,136.1 448.2,136.1 449.9,136.1 451.6,136.1 453.3,136.1 455.0,136.0 456.7,135.9 458.4,135.7 460.1,135.5 461.8,135.3 463.4,135.0 465.0,134.6 466.5,134.2 467.9,133.7 469.2,133.1 470.6,132.5 471.8,131.9 473.0,131.4 474.1,130.9 475.1,130.5 476.1,130.1 477.1,129.6 478.0,129.1 479.0,128.5 480.0,127.8 481.0,127.1 482.0,126.3 483.0,125.4 484.0,124.5 485.0,123.5 486.0,122.5 487.0,121.4 488.0,120.2 489.0,119.1 490.0,117.8 491.0,116.5 492.0,115.1 493.0,113.7 494.0,112.2 495.0,110.7 496.0,109.1 497.0,107.5 498.0,105.8 499.0,104.0 500.0,102.1 501.0,100.2 502.0,98.4 503.0,96.5 504.0,94.7 505.0,92.8 506.0,91.0 507.0,89.1 508.0,87.3 509.0,85.5 510.0,83.7 511.0,81.9 512.0,80.1 513.0,78.4 514.0,76.7 515.0,75.0 516.0,73.4 517.0,71.8 518.0,70.3 519.0,68.8 520.0,67.4 521.0,66.0 522.0,64.7 523.0,63.4 523.9,62.2 524.9,61.0 525.9,59.9 527.0,59.0 528.1,58.1 529.3,57.3 530.4,56.6 531.6,56.1 532.8,55.6 534.0,55.4 535.2,55.4 536.4,55.5 537.6,55.8 538.7,56.2 539.9,56.7 541.0,57.4 542.1,58.2 543.1,59.2 544.1,60.3 545.0,61.5 546.0,62.7 547.0,64.0 548.0,65.3 549.0,66.7 550.0,68.2 551.0,69.8 552.0,71.4 553.0,73.0 554.0,74.7 555.0,76.5 556.0,78.3 557.0,80.2 558.0,82.1 559.0,84.0 560.0,85.9 561.0,87.9 562.0,89.9 563.0,91.9 564.0,93.9 565.0,96.0 566.0,98.1 567.0,100.3 568.0,102.5 569.0,104.7 570.0,106.9 571.0,109.0 572.0,111.1 573.1,113.2 574.1,115.3 575.1,117.3 576.1,119.2 577.0,121.0 577.8,122.7 578.6,124.3 579.4,125.8 580.0,127.1 580.6,128.2 581.0,129.0"/>
<path class="au" d="M428.5 29.0V213.5H580.8"/>
<path class="ax" d="M428.5 29.0V213.5H580.8"/>
<path class="tk" d="M428.5 213.5v-2M428.5 29.5h2M466.5 213.5v-2M428.5 75.5h2M504.5 213.5v-2M428.5 121.5h2M543.5 213.5v-2M428.5 167.5h2M581.5 213.5v-2M428.5 213.5h2"/>
<text class="t yt" transform="translate(424.2 33.9) scale(1 1.14)">1</text>
<text class="t yt" transform="translate(424.2 79.9) scale(1 1.14)">0.5</text>
<text class="t yt" transform="translate(424.2 125.9) scale(1 1.14)">0</text>
<text class="t yt" transform="translate(424.2 171.9) scale(1 1.14)">-0.5</text>
<text class="t yt" transform="translate(424.2 217.9) scale(1 1.14)">-1</text>
<text class="t xt" transform="translate(425.7 228.0) scale(1 1.14)">-8</text>
<text class="t xt" transform="translate(463.9 228.0) scale(1 1.14)">-4</text>
<text class="t xt" transform="translate(503.7 228.0) scale(1 1.14)">0</text>
<text class="t xt" transform="translate(542.0 228.0) scale(1 1.14)">4</text>
<text class="t xt" transform="translate(580.2 228.0) scale(1 1.14)">8</text>
<text class="ti" transform="translate(505.0 20.1) scale(1 1.22)">I-Tech</text>
</g>
<g>
<line class="vl" x1="102.5" y1="283.0" x2="102.5" y2="466.0"/>
<polygon class="lb" points="27.0,297.0 28.1,297.2 29.7,297.5 31.5,297.9 33.4,298.3 35.3,298.7 37.0,299.0 38.4,299.3 39.7,299.5 41.0,299.8 42.3,300.0 43.6,300.3 45.0,300.6 46.6,301.0 48.2,301.4 49.9,301.8 51.6,302.2 53.3,302.6 55.0,303.0 56.7,303.3 58.3,303.6 60.0,303.9 61.7,304.2 63.3,304.6 65.0,305.0 66.7,305.5 68.3,306.2 70.0,306.9 71.7,307.5 73.3,308.1 75.0,308.6 76.7,308.8 78.5,308.9 80.2,308.8 82.0,308.8 83.6,309.0 85.0,309.4 86.2,310.1 87.2,311.0 88.1,312.0 89.0,313.1 89.9,314.3 91.0,315.5 92.2,316.7 93.6,318.0 95.0,319.4 96.4,320.8 97.8,322.2 99.0,323.5 100.1,324.8 101.1,326.0 102.0,327.2 102.9,328.4 103.9,329.7 105.0,331.0 106.2,332.3 107.5,333.7 108.8,335.0 110.1,336.4 111.6,337.9 113.0,339.5 114.5,341.4 116.2,343.7 117.8,346.1 119.5,348.2 121.1,349.8 122.5,350.5 123.8,350.2 124.9,349.1 126.0,347.5 127.0,345.6 128.0,343.6 129.0,342.0 130.0,340.6 131.0,339.2 132.0,337.8 133.0,336.3 134.0,334.9 135.0,333.5 136.0,332.1 137.0,330.7 138.0,329.3 139.0,327.8 140.0,326.4 141.0,325.0 142.0,323.5 143.1,322.1 144.1,320.6 145.1,319.1 146.1,317.7 147.0,316.4 147.9,315.1 148.7,313.9 149.5,312.7 150.2,311.6 150.9,310.7 151.5,310.0 151.9,309.6 152.2,309.3 152.3,309.3 152.6,309.3 153.1,309.4 154.0,309.4 155.3,309.4 156.9,309.4 158.7,309.4 160.6,309.4 162.8,309.4 165.0,309.4 167.6,309.4 170.6,309.4 173.7,309.4 176.7,309.4 179.2,309.4 181.0,309.4 181.0,429.0 180.1,429.7 178.9,430.6 177.5,431.6 176.0,432.8 174.4,433.9 173.0,435.0 171.7,436.0 170.4,437.0 169.1,438.0 167.8,439.0 166.4,440.0 165.0,441.0 163.4,442.0 161.8,443.0 160.1,444.0 158.4,445.0 156.7,446.0 155.0,447.0 153.3,448.0 151.7,449.0 150.0,450.0 148.3,451.0 146.7,452.0 145.0,453.0 143.3,454.0 141.7,455.1 140.0,456.1 138.3,457.1 136.7,458.1 135.0,459.0 133.3,459.8 131.7,460.6 130.0,461.3 128.3,461.9 126.7,462.5 125.0,463.0 123.3,463.4 121.7,463.8 120.0,464.1 118.3,464.3 116.7,464.4 115.0,464.5 113.3,464.5 111.7,464.5 110.0,464.4 108.3,464.2 106.7,463.9 105.0,463.5 103.3,463.0 101.7,462.4 100.0,461.7 98.3,460.9 96.7,460.0 95.0,459.0 93.3,457.9 91.7,456.6 90.0,455.2 88.3,453.8 86.7,452.4 85.0,451.0 83.3,449.7 81.7,448.4 80.0,447.1 78.3,445.8 76.7,444.4 75.0,443.0 73.3,441.5 71.7,439.9 70.0,438.2 68.3,436.6 66.7,434.8 65.0,433.0 63.3,431.1 61.7,429.1 60.0,427.0 58.3,424.9 56.7,422.9 55.0,421.0 53.3,419.2 51.7,417.5 50.0,415.9 48.3,414.3 46.7,412.6 45.0,411.0 43.3,409.3 41.6,407.6 39.9,405.8 38.2,404.1 36.6,402.5 35.0,401.0 33.5,399.6 31.9,398.2 30.4,396.9 29.0,395.7 27.8,394.7 27.0,394.0"/>
<line class="vf" x1="102.5" y1="328.2" x2="102.5" y2="461.5"/>
<polygon class="db" points="27.0,313.0 28.1,313.5 29.7,314.3 31.5,315.2 33.4,316.2 35.3,317.1 37.0,318.0 38.4,318.8 39.7,319.6 41.0,320.3 42.3,321.1 43.6,321.8 45.0,322.6 46.6,323.3 48.2,324.1 49.9,324.8 51.6,325.6 53.3,326.3 55.0,327.0 56.7,327.7 58.3,328.4 60.0,329.1 61.7,329.8 63.3,330.4 65.0,331.0 66.7,331.5 68.4,331.9 70.1,332.3 71.8,332.7 73.4,333.3 75.0,334.0 76.5,334.9 77.9,335.9 79.2,337.0 80.6,338.2 81.8,339.6 83.0,341.0 84.1,342.6 85.1,344.3 86.1,346.2 87.1,348.1 88.0,350.1 89.0,352.0 90.0,354.0 91.1,356.0 92.1,358.0 93.1,360.0 94.1,362.0 95.0,364.0 95.8,365.9 96.6,367.9 97.2,369.9 97.9,371.7 98.5,373.5 99.0,375.0 99.4,376.2 99.7,377.1 99.9,377.8 100.1,378.6 100.5,379.6 101.0,381.0 101.8,382.9 102.7,385.2 103.8,387.8 104.9,390.3 106.0,392.8 107.0,395.0 108.0,397.0 108.9,398.9 109.9,400.6 110.9,402.3 111.9,403.7 113.0,405.0 114.2,406.1 115.6,407.1 117.0,408.0 118.4,408.6 119.8,409.0 121.0,409.0 122.1,408.6 123.2,408.0 124.2,407.0 125.1,405.8 126.1,404.5 127.0,403.0 128.0,401.3 128.9,399.4 129.8,397.4 130.8,395.2 131.6,393.1 132.5,391.0 133.3,389.0 134.1,386.9 134.8,384.9 135.5,382.9 136.2,380.9 137.0,379.0 137.8,377.3 138.6,375.7 139.4,374.1 140.2,372.6 141.1,370.9 142.0,369.0 142.9,366.9 143.9,364.6 144.9,362.1 145.9,359.7 147.0,357.3 148.0,355.0 149.1,352.8 150.1,350.7 151.2,348.6 152.3,346.6 153.4,344.7 154.5,343.0 155.6,341.5 156.6,340.2 157.7,339.0 158.7,338.0 159.8,337.0 161.0,336.0 162.3,335.1 163.6,334.2 165.0,333.4 166.4,332.6 167.8,332.0 169.0,331.4 170.1,331.0 171.1,330.7 172.1,330.5 173.1,330.4 174.0,330.2 175.0,330.0 176.1,329.7 177.2,329.3 178.4,328.9 179.4,328.5 180.3,328.2 181.0,328.0 181.0,393.0 180.1,393.6 178.9,394.4 177.5,395.4 176.0,396.5 174.4,397.7 173.0,399.0 171.7,400.4 170.3,402.0 169.0,403.8 167.7,405.5 166.3,407.3 165.0,409.0 163.7,410.7 162.3,412.3 161.0,414.0 159.7,415.7 158.3,417.3 157.0,419.0 155.7,420.7 154.3,422.3 153.0,424.0 151.7,425.7 150.3,427.3 149.0,429.0 147.7,430.7 146.3,432.4 145.0,434.1 143.7,435.8 142.3,437.4 141.0,439.0 139.7,440.5 138.3,441.9 137.0,443.2 135.7,444.6 134.3,445.8 133.0,447.0 131.7,448.1 130.3,449.2 129.0,450.2 127.7,451.1 126.3,452.1 125.0,453.0 123.6,453.9 122.3,454.9 120.9,455.8 119.5,456.7 118.2,457.4 117.0,458.0 115.9,458.5 114.9,458.9 113.9,459.2 112.9,459.3 112.0,459.3 111.0,459.0 110.0,458.5 109.1,457.7 108.1,456.8 107.1,455.6 106.1,454.4 105.0,453.0 103.8,451.5 102.5,449.9 101.1,448.1 99.7,446.1 98.4,444.1 97.0,442.0 95.6,439.7 94.2,437.1 92.8,434.3 91.4,431.7 90.1,429.2 89.0,427.0 88.1,425.2 87.4,423.7 86.8,422.4 86.3,421.2 85.7,419.9 85.0,418.5 84.2,416.9 83.5,415.3 82.7,413.6 81.9,411.9 81.0,410.2 80.0,408.5 78.9,406.8 77.8,405.0 76.6,403.2 75.3,401.5 74.1,399.9 73.0,398.5 71.9,397.3 70.9,396.3 69.9,395.4 69.0,394.6 68.0,393.8 67.0,393.0 66.0,392.2 65.0,391.3 64.1,390.6 63.1,389.7 62.1,388.9 61.0,388.0 59.9,387.0 58.8,385.9 57.6,384.7 56.4,383.6 55.2,382.6 54.0,381.7 52.7,381.0 51.4,380.4 50.0,379.9 48.6,379.5 47.3,379.0 46.0,378.5 44.8,378.0 43.7,377.5 42.7,377.0 41.6,376.4 40.6,375.9 39.5,375.2 38.4,374.4 37.3,373.6 36.2,372.7 35.1,371.8 34.1,370.9 33.0,370.0 31.9,369.0 30.7,368.0 29.6,366.9 28.5,365.9 27.6,365.1 27.0,364.5"/>
<clipPath id="c4"><polygon points="27.0,313.0 28.1,313.5 29.7,314.3 31.5,315.2 33.4,316.2 35.3,317.1 37.0,318.0 38.4,318.8 39.7,319.6 41.0,320.3 42.3,321.1 43.6,321.8 45.0,322.6 46.6,323.3 48.2,324.1 49.9,324.8 51.6,325.6 53.3,326.3 55.0,327.0 56.7,327.7 58.3,328.4 60.0,329.1 61.7,329.8 63.3,330.4 65.0,331.0 66.7,331.5 68.4,331.9 70.1,332.3 71.8,332.7 73.4,333.3 75.0,334.0 76.5,334.9 77.9,335.9 79.2,337.0 80.6,338.2 81.8,339.6 83.0,341.0 84.1,342.6 85.1,344.3 86.1,346.2 87.1,348.1 88.0,350.1 89.0,352.0 90.0,354.0 91.1,356.0 92.1,358.0 93.1,360.0 94.1,362.0 95.0,364.0 95.8,365.9 96.6,367.9 97.2,369.9 97.9,371.7 98.5,373.5 99.0,375.0 99.4,376.2 99.7,377.1 99.9,377.8 100.1,378.6 100.5,379.6 101.0,381.0 101.8,382.9 102.7,385.2 103.8,387.8 104.9,390.3 106.0,392.8 107.0,395.0 108.0,397.0 108.9,398.9 109.9,400.6 110.9,402.3 111.9,403.7 113.0,405.0 114.2,406.1 115.6,407.1 117.0,408.0 118.4,408.6 119.8,409.0 121.0,409.0 122.1,408.6 123.2,408.0 124.2,407.0 125.1,405.8 126.1,404.5 127.0,403.0 128.0,401.3 128.9,399.4 129.8,397.4 130.8,395.2 131.6,393.1 132.5,391.0 133.3,389.0 134.1,386.9 134.8,384.9 135.5,382.9 136.2,380.9 137.0,379.0 137.8,377.3 138.6,375.7 139.4,374.1 140.2,372.6 141.1,370.9 142.0,369.0 142.9,366.9 143.9,364.6 144.9,362.1 145.9,359.7 147.0,357.3 148.0,355.0 149.1,352.8 150.1,350.7 151.2,348.6 152.3,346.6 153.4,344.7 154.5,343.0 155.6,341.5 156.6,340.2 157.7,339.0 158.7,338.0 159.8,337.0 161.0,336.0 162.3,335.1 163.6,334.2 165.0,333.4 166.4,332.6 167.8,332.0 169.0,331.4 170.1,331.0 171.1,330.7 172.1,330.5 173.1,330.4 174.0,330.2 175.0,330.0 176.1,329.7 177.2,329.3 178.4,328.9 179.4,328.5 180.3,328.2 181.0,328.0 181.0,393.0 180.1,393.6 178.9,394.4 177.5,395.4 176.0,396.5 174.4,397.7 173.0,399.0 171.7,400.4 170.3,402.0 169.0,403.8 167.7,405.5 166.3,407.3 165.0,409.0 163.7,410.7 162.3,412.3 161.0,414.0 159.7,415.7 158.3,417.3 157.0,419.0 155.7,420.7 154.3,422.3 153.0,424.0 151.7,425.7 150.3,427.3 149.0,429.0 147.7,430.7 146.3,432.4 145.0,434.1 143.7,435.8 142.3,437.4 141.0,439.0 139.7,440.5 138.3,441.9 137.0,443.2 135.7,444.6 134.3,445.8 133.0,447.0 131.7,448.1 130.3,449.2 129.0,450.2 127.7,451.1 126.3,452.1 125.0,453.0 123.6,453.9 122.3,454.9 120.9,455.8 119.5,456.7 118.2,457.4 117.0,458.0 115.9,458.5 114.9,458.9 113.9,459.2 112.9,459.3 112.0,459.3 111.0,459.0 110.0,458.5 109.1,457.7 108.1,456.8 107.1,455.6 106.1,454.4 105.0,453.0 103.8,451.5 102.5,449.9 101.1,448.1 99.7,446.1 98.4,444.1 97.0,442.0 95.6,439.7 94.2,437.1 92.8,434.3 91.4,431.7 90.1,429.2 89.0,427.0 88.1,425.2 87.4,423.7 86.8,422.4 86.3,421.2 85.7,419.9 85.0,418.5 84.2,416.9 83.5,415.3 82.7,413.6 81.9,411.9 81.0,410.2 80.0,408.5 78.9,406.8 77.8,405.0 76.6,403.2 75.3,401.5 74.1,399.9 73.0,398.5 71.9,397.3 70.9,396.3 69.9,395.4 69.0,394.6 68.0,393.8 67.0,393.0 66.0,392.2 65.0,391.3 64.1,390.6 63.1,389.7 62.1,388.9 61.0,388.0 59.9,387.0 58.8,385.9 57.6,384.7 56.4,383.6 55.2,382.6 54.0,381.7 52.7,381.0 51.4,380.4 50.0,379.9 48.6,379.5 47.3,379.0 46.0,378.5 44.8,378.0 43.7,377.5 42.7,377.0 41.6,376.4 40.6,375.9 39.5,375.2 38.4,374.4 37.3,373.6 36.2,372.7 35.1,371.8 34.1,370.9 33.0,370.0 31.9,369.0 30.7,368.0 29.6,366.9 28.5,365.9 27.6,365.1 27.0,364.5"/></clipPath>
<g clip-path="url(#c4)"><line class="zl" x1="29.0" y1="375.5" x2="181.0" y2="375.5"/><line class="zv" x1="102.5" y1="284.0" x2="102.5" y2="466.0"/></g>
<polyline class="wl" points="27.0,341.0 28.1,341.5 29.7,342.3 31.5,343.2 33.4,344.1 35.3,345.1 37.0,346.0 38.4,346.8 39.7,347.7 41.0,348.5 42.3,349.3 43.6,350.2 45.0,351.0 46.6,351.9 48.2,352.7 49.9,353.6 51.6,354.5 53.3,355.3 55.0,356.0 56.7,356.6 58.5,357.0 60.2,357.4 62.0,357.9 63.6,358.3 65.0,359.0 66.2,359.8 67.3,360.8 68.2,361.8 69.1,362.9 70.0,364.0 71.0,365.0 72.0,365.9 72.9,366.8 73.9,367.6 74.9,368.6 75.9,369.7 77.0,371.0 78.2,372.6 79.5,374.4 80.9,376.3 82.3,378.4 83.6,380.6 85.0,383.0 86.3,385.6 87.7,388.3 89.0,391.2 90.3,394.2 91.7,397.2 93.0,400.0 94.3,402.7 95.7,405.5 97.0,408.2 98.3,410.9 99.7,413.5 101.0,416.0 102.4,418.6 103.7,421.2 105.1,423.7 106.5,426.1 107.8,428.2 109.0,430.0 110.1,431.4 111.1,432.4 112.1,433.2 113.0,433.8 114.0,434.2 115.0,434.6 116.1,435.0 117.3,435.3 118.4,435.4 119.6,435.4 120.8,435.2 122.0,434.6 123.2,433.8 124.3,432.7 125.4,431.4 126.6,429.8 127.8,428.0 129.0,426.0 130.3,423.6 131.6,420.9 132.9,418.0 134.3,414.9 135.7,411.9 137.0,409.0 138.3,406.2 139.7,403.4 141.0,400.7 142.3,398.0 143.7,395.4 145.0,393.0 146.4,390.7 147.7,388.6 149.1,386.5 150.5,384.6 151.8,382.7 153.0,381.0 154.1,379.4 155.1,378.0 156.0,376.6 156.9,375.4 157.9,374.2 159.0,373.0 160.2,371.9 161.6,370.8 163.0,369.8 164.4,368.8 165.8,367.9 167.0,367.0 168.1,366.2 169.1,365.6 170.0,364.9 170.9,364.3 171.9,363.7 173.0,363.0 174.3,362.2 175.8,361.2 177.4,360.2 178.9,359.3 180.1,358.6 181.0,358.0"/>
<polyline class="yl" points="27.0,319.0 28.1,319.9 29.7,321.0 31.5,322.4 33.4,324.0 35.3,325.5 37.0,327.0 38.5,328.5 39.9,330.0 41.2,331.5 42.6,333.0 43.8,334.5 45.0,336.0 46.1,337.4 47.1,338.7 48.1,339.9 49.1,341.2 50.0,342.6 51.0,344.0 52.0,345.5 53.0,347.1 54.0,348.8 55.0,350.5 56.0,352.3 57.0,354.0 58.0,355.8 59.0,357.5 60.0,359.3 61.0,361.1 62.0,363.0 63.0,365.0 64.0,367.1 65.1,369.5 66.2,371.9 67.3,374.2 68.2,376.3 69.0,378.0 69.5,379.2 69.8,379.9 70.0,380.3 70.2,380.8 70.5,381.6 71.0,383.0 71.8,385.0 72.7,387.4 73.8,390.2 74.9,393.1 76.0,396.1 77.0,399.0 78.0,401.9 79.0,404.9 80.0,408.0 81.0,411.1 82.0,414.1 83.0,417.0 84.0,419.8 85.0,422.5 86.0,425.2 87.0,427.8 88.0,430.4 89.0,433.0 90.0,435.6 91.0,438.3 92.0,440.9 93.0,443.5 94.0,445.9 95.0,448.0 96.0,449.9 97.0,451.6 98.0,453.1 99.0,454.5 100.0,455.8 101.0,457.0 102.0,458.1 103.0,459.1 104.0,460.1 105.0,460.9 106.0,461.5 107.0,462.0 108.0,462.3 109.0,462.6 110.0,462.6 111.0,462.6 112.0,462.3 113.0,462.0 114.0,461.5 115.0,460.8 116.0,460.0 117.0,459.1 118.0,458.1 119.0,457.0 120.0,455.8 121.1,454.4 122.1,453.0 123.1,451.6 124.1,450.2 125.0,449.0 125.8,448.0 126.5,447.3 127.1,446.6 127.7,445.9 128.4,445.0 129.0,444.0 129.6,442.8 130.3,441.4 130.9,439.9 131.5,438.4 132.2,436.7 133.0,435.0 133.9,433.2 134.9,431.3 135.9,429.3 136.9,427.3 138.0,425.2 139.0,423.0 140.0,420.8 141.0,418.5 142.0,416.1 143.0,413.7 144.0,411.4 145.0,409.0 146.0,406.6 147.0,404.3 148.0,401.9 149.0,399.5 150.0,397.2 151.0,395.0 152.0,392.9 153.1,390.8 154.1,388.8 155.1,386.8 156.1,384.9 157.0,383.0 157.8,381.2 158.4,379.6 159.0,377.9 159.6,376.3 160.2,374.7 161.0,373.0 161.9,371.2 162.9,369.4 163.9,367.5 164.9,365.6 166.0,363.8 167.0,362.0 168.0,360.3 168.9,358.6 169.9,357.0 170.9,355.4 171.9,353.7 173.0,352.0 174.3,350.1 175.8,348.0 177.4,345.9 178.9,343.9 180.1,342.2 181.0,341.0"/>
<polyline class="yd" points="27.0,319.0 28.1,319.9 29.7,321.0 31.5,322.4 33.4,324.0 35.3,325.5 37.0,327.0 38.5,328.5 39.9,330.0 41.2,331.5 42.6,333.0 43.8,334.5 45.0,336.0 46.1,337.4 47.1,338.7 48.1,339.9 49.1,341.2 50.0,342.6 51.0,344.0 52.0,345.5 53.0,347.1 54.0,348.8 55.0,350.5 56.0,352.3 57.0,354.0 58.0,355.8 59.0,357.5 60.0,359.3 61.0,361.1 62.0,363.0 63.0,365.0 64.0,367.1 65.1,369.5 66.2,371.9 67.3,374.2 68.2,376.3 69.0,378.0 69.5,379.2 69.8,379.9 70.0,380.3 70.2,380.8 70.5,381.6 71.0,383.0 71.8,385.0 72.7,387.4 73.8,390.2 74.9,393.1 76.0,396.1 77.0,399.0 78.0,401.9 79.0,404.9 80.0,408.0 81.0,411.1 82.0,414.1 83.0,417.0 84.0,419.8 85.0,422.5 86.0,425.2 87.0,427.8 88.0,430.4 89.0,433.0 90.0,435.6 91.0,438.3 92.0,440.9 93.0,443.5 94.0,445.9 95.0,448.0 96.0,449.9 97.0,451.6 98.0,453.1 99.0,454.5 100.0,455.8 101.0,457.0 102.0,458.1 103.0,459.1 104.0,460.1 105.0,460.9 106.0,461.5 107.0,462.0 108.0,462.3 109.0,462.6 110.0,462.6 111.0,462.6 112.0,462.3 113.0,462.0 114.0,461.5 115.0,460.8 116.0,460.0 117.0,459.1 118.0,458.1 119.0,457.0 120.0,455.8 121.1,454.4 122.1,453.0 123.1,451.6 124.1,450.2 125.0,449.0 125.8,448.0 126.5,447.3 127.1,446.6 127.7,445.9 128.4,445.0 129.0,444.0 129.6,442.8 130.3,441.4 130.9,439.9 131.5,438.4 132.2,436.7 133.0,435.0 133.9,433.2 134.9,431.3 135.9,429.3 136.9,427.3 138.0,425.2 139.0,423.0 140.0,420.8 141.0,418.5 142.0,416.1 143.0,413.7 144.0,411.4 145.0,409.0 146.0,406.6 147.0,404.3 148.0,401.9 149.0,399.5 150.0,397.2 151.0,395.0 152.0,392.9 153.1,390.8 154.1,388.8 155.1,386.8 156.1,384.9 157.0,383.0 157.8,381.2 158.4,379.6 159.0,377.9 159.6,376.3 160.2,374.7 161.0,373.0 161.9,371.2 162.9,369.4 163.9,367.5 164.9,365.6 166.0,363.8 167.0,362.0 168.0,360.3 168.9,358.6 169.9,357.0 170.9,355.4 171.9,353.7 173.0,352.0 174.3,350.1 175.8,348.0 177.4,345.9 178.9,343.9 180.1,342.2 181.0,341.0"/>
<path class="au" d="M27.5 283.0V466.5H180.8"/>
<path class="ax" d="M27.5 283.0V466.5H180.8"/>
<path class="tk" d="M27.5 466.5v-2M27.5 283.5h2M65.5 466.5v-2M27.5 329.5h2M103.5 466.5v-2M27.5 374.5h2M142.5 466.5v-2M27.5 420.5h2M180.5 466.5v-2M27.5 466.5h2"/>
<text class="t yt" transform="translate(23.2 287.9) scale(1 1.14)">1</text>
<text class="t yt" transform="translate(23.2 333.6) scale(1 1.14)">0.5</text>
<text class="t yt" transform="translate(23.2 379.4) scale(1 1.14)">0</text>
<text class="t yt" transform="translate(23.2 425.1) scale(1 1.14)">-0.5</text>
<text class="t yt" transform="translate(23.2 470.9) scale(1 1.14)">-1</text>
<text class="t xt" transform="translate(24.7 481.0) scale(1 1.14)">-8</text>
<text class="t xt" transform="translate(63.2 481.0) scale(1 1.14)">-4</text>
<text class="t xt" transform="translate(103.2 481.0) scale(1 1.14)">0</text>
<text class="t xt" transform="translate(141.7 481.0) scale(1 1.14)">4</text>
<text class="t xt" transform="translate(180.2 481.0) scale(1 1.14)">8</text>
<text class="ti" transform="translate(103.0 275.1) scale(1 1.22)">News</text>
</g>
<g>
<line class="vl" x1="304.5" y1="283.0" x2="304.5" y2="466.0"/>
<polygon class="lb" points="228.0,303.0 229.0,303.2 230.4,303.5 232.0,303.9 233.7,304.3 235.5,304.6 237.0,305.0 238.4,305.3 239.7,305.6 240.9,305.9 242.2,306.3 243.6,306.6 245.0,307.0 246.6,307.5 248.2,308.0 249.9,308.5 251.6,309.0 253.3,309.5 255.0,310.0 256.7,310.4 258.3,310.8 260.0,311.2 261.7,311.5 263.3,311.8 265.0,312.0 266.7,312.1 268.4,312.0 270.1,311.9 271.8,311.8 273.4,311.8 275.0,312.0 276.5,312.4 277.9,312.9 279.2,313.6 280.6,314.3 281.8,315.1 283.0,316.0 284.1,316.9 285.1,318.0 286.1,319.1 287.1,320.3 288.0,321.6 289.0,323.0 290.0,324.6 291.0,326.3 292.0,328.1 293.0,330.0 294.0,332.0 295.0,334.0 296.0,336.0 297.0,338.1 298.0,340.3 299.0,342.5 300.0,344.8 301.0,347.0 302.0,349.3 303.0,351.7 304.0,354.1 305.0,356.4 306.0,358.8 307.0,361.0 308.0,363.2 309.0,365.4 310.0,367.6 311.0,369.6 312.0,371.4 313.0,373.0 314.0,374.3 315.0,375.4 316.0,376.3 317.0,377.0 318.0,377.6 319.0,378.0 320.0,378.2 321.1,378.2 322.1,378.1 323.1,377.8 324.1,377.4 325.0,377.0 325.8,376.6 326.5,376.0 327.1,375.4 327.7,374.7 328.4,373.9 329.0,373.0 329.6,372.0 330.3,370.9 330.9,369.6 331.5,368.3 332.2,366.7 333.0,365.0 333.9,363.0 334.9,360.8 335.9,358.5 336.9,356.0 338.0,353.5 339.0,351.0 340.0,348.5 341.0,345.9 342.0,343.2 343.0,340.6 344.0,338.0 345.0,335.5 346.0,333.1 346.9,330.7 347.9,328.4 348.9,326.2 349.9,324.1 351.0,322.0 352.2,320.0 353.5,318.1 354.9,316.2 356.3,314.4 357.6,312.9 359.0,311.5 360.3,310.4 361.7,309.5 363.0,308.7 364.3,308.1 365.7,307.5 367.0,307.0 368.4,306.5 369.7,306.1 371.1,305.8 372.5,305.5 373.8,305.2 375.0,305.0 376.2,304.8 377.4,304.6 378.5,304.4 379.5,304.2 380.4,304.1 381.0,304.0 381.0,411.0 380.1,411.8 378.9,413.0 377.5,414.4 376.0,415.9 374.4,417.5 373.0,419.0 371.7,420.6 370.3,422.2 369.0,423.9 367.7,425.6 366.3,427.3 365.0,429.0 363.7,430.7 362.3,432.3 361.0,434.0 359.7,435.7 358.3,437.3 357.0,439.0 355.7,440.7 354.3,442.4 353.0,444.1 351.7,445.7 350.3,447.4 349.0,449.0 347.7,450.6 346.3,452.2 345.0,453.8 343.7,455.3 342.3,456.7 341.0,458.0 339.7,459.1 338.4,460.1 337.2,461.0 335.9,461.7 334.5,462.4 333.0,463.0 331.3,463.5 329.6,463.9 327.7,464.2 325.8,464.4 323.9,464.5 322.0,464.6 320.2,464.6 318.3,464.6 316.4,464.5 314.6,464.3 312.8,464.0 311.0,463.5 309.3,462.9 307.5,462.1 305.8,461.2 304.1,460.2 302.5,459.1 301.0,458.0 299.6,456.8 298.2,455.6 296.9,454.3 295.6,453.0 294.3,451.5 293.0,450.0 291.7,448.4 290.4,446.6 289.1,444.8 287.8,442.9 286.4,440.9 285.0,439.0 283.4,437.0 281.8,435.0 280.1,433.0 278.4,431.0 276.7,429.0 275.0,427.0 273.3,425.1 271.7,423.2 270.0,421.4 268.3,419.6 266.7,417.8 265.0,416.0 263.3,414.3 261.7,412.6 260.0,410.9 258.3,409.2 256.7,407.6 255.0,406.0 253.3,404.4 251.6,402.8 249.9,401.2 248.2,399.7 246.6,398.3 245.0,397.0 243.6,395.8 242.2,394.8 240.9,393.8 239.7,392.9 238.4,392.0 237.0,391.0 235.5,389.9 233.7,388.8 232.0,387.6 230.4,386.6 229.0,385.7 228.0,385.0"/>
<line class="vf" x1="304.5" y1="355.1" x2="304.5" y2="459.1"/>
<polygon class="db" points="228.0,320.0 229.0,320.4 230.4,321.0 232.0,321.8 233.7,322.5 235.5,323.3 237.0,324.0 238.4,324.7 239.7,325.4 240.9,326.1 242.2,326.7 243.6,327.4 245.0,328.0 246.6,328.6 248.2,329.1 249.9,329.6 251.6,330.0 253.3,330.5 255.0,331.0 256.7,331.5 258.4,331.9 260.1,332.4 261.8,332.9 263.4,333.4 265.0,334.0 266.5,334.7 267.9,335.4 269.2,336.2 270.6,337.1 271.8,338.0 273.0,339.0 274.1,340.0 275.1,341.0 276.1,342.1 277.0,343.3 278.0,344.6 279.0,346.0 280.1,347.6 281.4,349.4 282.6,351.4 283.8,353.3 285.0,355.2 286.0,357.0 286.9,358.6 287.7,360.1 288.4,361.6 289.1,363.0 289.8,364.5 290.5,366.0 291.2,367.6 291.9,369.3 292.6,371.1 293.3,372.8 293.9,374.4 294.5,376.0 295.0,377.3 295.4,378.5 295.7,379.6 296.0,380.7 296.5,382.2 297.0,384.0 297.7,386.3 298.5,389.1 299.3,392.1 300.2,395.2 301.1,398.2 302.0,401.0 302.8,403.6 303.6,406.0 304.4,408.4 305.3,410.7 306.1,412.9 307.0,415.0 307.9,416.9 308.8,418.8 309.8,420.5 310.7,422.1 311.8,423.6 313.0,425.0 314.3,426.4 315.9,427.7 317.4,429.0 319.0,430.0 320.6,430.7 322.0,431.0 323.3,430.8 324.5,430.1 325.7,429.1 326.8,427.9 327.9,426.5 329.0,425.0 330.1,423.4 331.1,421.5 332.1,419.5 333.0,417.4 334.0,415.2 335.0,413.0 336.0,410.8 337.0,408.5 338.1,406.1 339.1,403.7 340.1,401.4 341.0,399.0 341.9,396.6 342.9,394.0 343.8,391.4 344.6,388.9 345.4,386.8 346.0,385.0 346.4,383.8 346.7,383.2 346.8,382.9 347.0,382.6 347.2,382.0 347.5,381.0 347.9,379.5 348.4,377.8 349.0,375.8 349.6,373.7 350.2,371.4 351.0,369.0 351.8,366.4 352.8,363.6 353.8,360.7 354.8,357.7 355.9,354.8 357.0,352.0 358.1,349.3 359.3,346.6 360.4,344.0 361.6,341.5 362.8,339.1 364.0,337.0 365.2,335.1 366.4,333.4 367.6,331.9 368.7,330.6 369.9,329.3 371.0,328.0 372.1,326.8 373.1,325.6 374.2,324.6 375.2,323.6 376.1,322.8 377.0,322.0 377.8,321.4 378.6,320.8 379.4,320.4 380.0,320.0 380.6,319.7 381.0,319.5 381.0,379.0 380.1,379.8 378.9,381.0 377.5,382.4 376.0,383.9 374.4,385.5 373.0,387.0 371.7,388.5 370.3,390.1 368.9,391.8 367.6,393.4 366.3,395.2 365.0,397.0 363.8,398.9 362.6,400.9 361.4,402.9 360.2,404.9 359.1,407.0 358.0,409.0 356.9,411.0 355.9,413.0 354.9,415.0 354.0,417.0 353.0,419.0 352.0,421.0 351.0,423.0 350.0,425.0 349.0,427.0 348.0,429.0 347.0,431.0 346.0,433.0 345.0,435.0 344.0,437.1 343.0,439.1 342.0,441.1 341.0,443.1 340.0,445.0 339.0,446.8 338.0,448.6 337.0,450.4 336.0,452.0 335.0,453.6 334.0,455.0 333.0,456.3 332.0,457.5 331.0,458.5 330.0,459.5 329.0,460.3 328.0,461.0 327.0,461.5 326.0,461.9 325.1,462.1 324.1,462.3 323.1,462.3 322.0,462.3 320.9,462.2 319.7,462.0 318.5,461.7 317.3,461.3 316.1,460.8 315.0,460.3 313.9,459.7 312.9,459.0 311.9,458.3 311.0,457.4 310.0,456.5 309.0,455.5 308.0,454.4 307.0,453.2 306.0,451.9 305.0,450.5 304.0,449.0 303.0,447.5 302.0,445.9 301.0,444.2 300.0,442.5 299.0,440.7 298.0,438.9 297.0,437.0 296.0,435.1 295.0,433.1 294.0,431.2 293.0,429.1 292.0,427.1 291.0,425.0 290.0,422.9 289.0,420.7 288.0,418.4 287.0,416.2 286.0,414.1 285.0,412.0 284.0,410.0 283.0,408.1 282.0,406.3 281.0,404.5 280.0,402.8 279.0,401.0 278.0,399.3 277.1,397.6 276.1,395.9 275.1,394.2 274.1,392.6 273.0,391.0 271.8,389.4 270.6,387.9 269.2,386.4 267.9,384.9 266.5,383.4 265.0,382.0 263.4,380.6 261.8,379.1 260.1,377.8 258.4,376.4 256.7,375.1 255.0,374.0 253.3,373.0 251.6,372.1 249.9,371.4 248.2,370.6 246.6,369.9 245.0,369.0 243.6,368.0 242.2,367.0 240.9,366.0 239.7,365.0 238.4,364.0 237.0,363.0 235.5,362.1 233.7,361.1 232.0,360.1 230.4,359.3 229.0,358.5 228.0,358.0"/>
<clipPath id="c5"><polygon points="228.0,320.0 229.0,320.4 230.4,321.0 232.0,321.8 233.7,322.5 235.5,323.3 237.0,324.0 238.4,324.7 239.7,325.4 240.9,326.1 242.2,326.7 243.6,327.4 245.0,328.0 246.6,328.6 248.2,329.1 249.9,329.6 251.6,330.0 253.3,330.5 255.0,331.0 256.7,331.5 258.4,331.9 260.1,332.4 261.8,332.9 263.4,333.4 265.0,334.0 266.5,334.7 267.9,335.4 269.2,336.2 270.6,337.1 271.8,338.0 273.0,339.0 274.1,340.0 275.1,341.0 276.1,342.1 277.0,343.3 278.0,344.6 279.0,346.0 280.1,347.6 281.4,349.4 282.6,351.4 283.8,353.3 285.0,355.2 286.0,357.0 286.9,358.6 287.7,360.1 288.4,361.6 289.1,363.0 289.8,364.5 290.5,366.0 291.2,367.6 291.9,369.3 292.6,371.1 293.3,372.8 293.9,374.4 294.5,376.0 295.0,377.3 295.4,378.5 295.7,379.6 296.0,380.7 296.5,382.2 297.0,384.0 297.7,386.3 298.5,389.1 299.3,392.1 300.2,395.2 301.1,398.2 302.0,401.0 302.8,403.6 303.6,406.0 304.4,408.4 305.3,410.7 306.1,412.9 307.0,415.0 307.9,416.9 308.8,418.8 309.8,420.5 310.7,422.1 311.8,423.6 313.0,425.0 314.3,426.4 315.9,427.7 317.4,429.0 319.0,430.0 320.6,430.7 322.0,431.0 323.3,430.8 324.5,430.1 325.7,429.1 326.8,427.9 327.9,426.5 329.0,425.0 330.1,423.4 331.1,421.5 332.1,419.5 333.0,417.4 334.0,415.2 335.0,413.0 336.0,410.8 337.0,408.5 338.1,406.1 339.1,403.7 340.1,401.4 341.0,399.0 341.9,396.6 342.9,394.0 343.8,391.4 344.6,388.9 345.4,386.8 346.0,385.0 346.4,383.8 346.7,383.2 346.8,382.9 347.0,382.6 347.2,382.0 347.5,381.0 347.9,379.5 348.4,377.8 349.0,375.8 349.6,373.7 350.2,371.4 351.0,369.0 351.8,366.4 352.8,363.6 353.8,360.7 354.8,357.7 355.9,354.8 357.0,352.0 358.1,349.3 359.3,346.6 360.4,344.0 361.6,341.5 362.8,339.1 364.0,337.0 365.2,335.1 366.4,333.4 367.6,331.9 368.7,330.6 369.9,329.3 371.0,328.0 372.1,326.8 373.1,325.6 374.2,324.6 375.2,323.6 376.1,322.8 377.0,322.0 377.8,321.4 378.6,320.8 379.4,320.4 380.0,320.0 380.6,319.7 381.0,319.5 381.0,379.0 380.1,379.8 378.9,381.0 377.5,382.4 376.0,383.9 374.4,385.5 373.0,387.0 371.7,388.5 370.3,390.1 368.9,391.8 367.6,393.4 366.3,395.2 365.0,397.0 363.8,398.9 362.6,400.9 361.4,402.9 360.2,404.9 359.1,407.0 358.0,409.0 356.9,411.0 355.9,413.0 354.9,415.0 354.0,417.0 353.0,419.0 352.0,421.0 351.0,423.0 350.0,425.0 349.0,427.0 348.0,429.0 347.0,431.0 346.0,433.0 345.0,435.0 344.0,437.1 343.0,439.1 342.0,441.1 341.0,443.1 340.0,445.0 339.0,446.8 338.0,448.6 337.0,450.4 336.0,452.0 335.0,453.6 334.0,455.0 333.0,456.3 332.0,457.5 331.0,458.5 330.0,459.5 329.0,460.3 328.0,461.0 327.0,461.5 326.0,461.9 325.1,462.1 324.1,462.3 323.1,462.3 322.0,462.3 320.9,462.2 319.7,462.0 318.5,461.7 317.3,461.3 316.1,460.8 315.0,460.3 313.9,459.7 312.9,459.0 311.9,458.3 311.0,457.4 310.0,456.5 309.0,455.5 308.0,454.4 307.0,453.2 306.0,451.9 305.0,450.5 304.0,449.0 303.0,447.5 302.0,445.9 301.0,444.2 300.0,442.5 299.0,440.7 298.0,438.9 297.0,437.0 296.0,435.1 295.0,433.1 294.0,431.2 293.0,429.1 292.0,427.1 291.0,425.0 290.0,422.9 289.0,420.7 288.0,418.4 287.0,416.2 286.0,414.1 285.0,412.0 284.0,410.0 283.0,408.1 282.0,406.3 281.0,404.5 280.0,402.8 279.0,401.0 278.0,399.3 277.1,397.6 276.1,395.9 275.1,394.2 274.1,392.6 273.0,391.0 271.8,389.4 270.6,387.9 269.2,386.4 267.9,384.9 266.5,383.4 265.0,382.0 263.4,380.6 261.8,379.1 260.1,377.8 258.4,376.4 256.7,375.1 255.0,374.0 253.3,373.0 251.6,372.1 249.9,371.4 248.2,370.6 246.6,369.9 245.0,369.0 243.6,368.0 242.2,367.0 240.9,366.0 239.7,365.0 238.4,364.0 237.0,363.0 235.5,362.1 233.7,361.1 232.0,360.1 230.4,359.3 229.0,358.5 228.0,358.0"/></clipPath>
<g clip-path="url(#c5)"><line class="zl" x1="230.0" y1="375.5" x2="381.0" y2="375.5"/><line class="zv" x1="304.5" y1="284.0" x2="304.5" y2="466.0"/></g>
<polyline class="wl" points="228.0,340.0 229.0,340.4 230.4,341.0 232.0,341.8 233.7,342.5 235.5,343.3 237.0,344.0 238.4,344.7 239.7,345.3 240.9,345.9 242.2,346.6 243.6,347.3 245.0,348.0 246.6,348.8 248.3,349.6 250.0,350.4 251.7,351.3 253.4,352.2 255.0,353.0 256.4,353.8 257.7,354.6 259.0,355.3 260.3,356.1 261.6,357.0 263.0,358.0 264.6,359.1 266.3,360.3 268.0,361.6 269.7,363.0 271.4,364.5 273.0,366.0 274.5,367.6 275.9,369.4 277.2,371.2 278.6,373.1 279.8,375.0 281.0,377.0 282.1,379.0 283.1,381.1 284.1,383.3 285.1,385.5 286.0,387.8 287.0,390.0 288.0,392.2 288.9,394.5 289.9,396.8 290.9,399.1 291.9,401.5 293.0,404.0 294.2,406.7 295.5,409.6 296.9,412.5 298.3,415.4 299.6,418.3 301.0,421.0 302.3,423.6 303.7,426.1 305.0,428.6 306.3,430.9 307.7,433.0 309.0,435.0 310.4,436.7 311.7,438.3 313.1,439.7 314.5,441.0 315.8,442.0 317.0,443.0 318.1,443.8 319.1,444.5 320.1,445.1 321.1,445.5 322.0,445.6 323.0,445.6 324.0,445.3 325.0,444.8 326.0,444.1 327.0,443.2 328.0,442.2 329.0,441.0 330.0,439.7 331.0,438.2 332.0,436.6 333.0,434.8 334.0,433.0 335.0,431.0 336.0,428.9 337.0,426.6 338.0,424.2 339.0,421.8 340.0,419.4 341.0,417.0 342.0,414.7 342.9,412.5 343.9,410.2 344.9,408.0 345.9,405.6 347.0,403.0 348.2,400.2 349.5,397.1 350.9,394.0 352.3,390.9 353.6,387.8 355.0,385.0 356.3,382.4 357.7,379.9 359.0,377.6 360.3,375.3 361.7,373.1 363.0,371.0 364.3,369.0 365.6,367.1 366.9,365.3 368.2,363.6 369.6,361.8 371.0,360.0 372.7,358.0 374.6,355.9 376.5,353.8 378.3,351.9 379.9,350.2 381.0,349.0"/>
<polyline class="yl" points="228.0,332.0 229.0,332.4 230.4,333.0 232.0,333.8 233.7,334.5 235.5,335.3 237.0,336.0 238.4,336.7 239.7,337.3 241.1,337.9 242.4,338.6 243.7,339.3 245.0,340.0 246.3,340.8 247.7,341.6 249.0,342.4 250.3,343.2 251.7,344.1 253.0,345.0 254.4,345.9 255.7,346.9 257.1,347.9 258.5,349.0 259.8,350.0 261.0,351.0 262.1,352.0 263.1,353.0 264.1,353.9 265.1,354.9 266.0,355.9 267.0,357.0 268.0,358.1 269.0,359.2 270.1,360.4 271.1,361.6 272.1,362.8 273.0,364.0 273.9,365.3 274.8,366.6 275.6,368.0 276.4,369.4 277.2,370.7 278.0,372.0 278.7,373.2 279.4,374.2 280.0,375.2 280.6,376.3 281.3,377.6 282.0,379.0 282.8,380.7 283.6,382.5 284.4,384.4 285.2,386.5 286.1,388.7 287.0,391.0 287.9,393.4 288.9,396.0 289.9,398.8 291.0,401.5 292.0,404.3 293.0,407.0 294.0,409.7 295.0,412.3 296.0,415.0 297.0,417.7 298.0,420.3 299.0,423.0 300.0,425.7 301.0,428.5 302.0,431.2 303.0,434.0 304.0,436.6 305.0,439.0 306.0,441.3 307.0,443.5 308.0,445.6 309.0,447.5 310.0,449.3 311.0,451.0 312.0,452.5 313.0,453.9 314.1,455.1 315.1,456.2 316.1,457.2 317.0,458.0 317.9,458.7 318.7,459.2 319.5,459.6 320.3,459.9 321.1,460.0 322.0,460.0 322.9,459.9 323.9,459.6 324.9,459.2 326.0,458.7 327.0,458.0 328.0,457.0 329.0,455.8 330.0,454.3 331.0,452.7 332.0,450.9 333.0,449.0 334.0,447.0 335.0,444.9 336.0,442.7 337.0,440.4 338.0,438.0 339.0,435.5 340.0,433.0 341.0,430.4 342.0,427.7 343.0,425.0 344.0,422.3 345.0,419.6 346.0,417.0 347.0,414.6 348.0,412.2 349.0,409.9 350.0,407.6 351.0,405.3 352.0,403.0 353.0,400.7 354.0,398.4 355.1,396.1 356.1,393.7 357.1,391.4 358.0,389.0 358.9,386.5 359.8,383.8 360.6,381.1 361.4,378.5 362.2,376.1 363.0,374.0 363.7,372.3 364.4,370.8 365.1,369.5 365.7,368.3 366.3,367.2 367.0,366.0 367.7,364.8 368.3,363.6 369.0,362.4 369.7,361.3 370.3,360.2 371.0,359.0 371.6,357.8 372.3,356.7 372.9,355.6 373.5,354.4 374.2,353.2 375.0,352.0 376.0,350.6 377.1,349.1 378.2,347.6 379.4,346.1 380.3,344.9 381.0,344.0"/>
<polyline class="yd" points="228.0,332.0 229.0,332.4 230.4,333.0 232.0,333.8 233.7,334.5 235.5,335.3 237.0,336.0 238.4,336.7 239.7,337.3 241.1,337.9 242.4,338.6 243.7,339.3 245.0,340.0 246.3,340.8 247.7,341.6 249.0,342.4 250.3,343.2 251.7,344.1 253.0,345.0 254.4,345.9 255.7,346.9 257.1,347.9 258.5,349.0 259.8,350.0 261.0,351.0 262.1,352.0 263.1,353.0 264.1,353.9 265.1,354.9 266.0,355.9 267.0,357.0 268.0,358.1 269.0,359.2 270.1,360.4 271.1,361.6 272.1,362.8 273.0,364.0 273.9,365.3 274.8,366.6 275.6,368.0 276.4,369.4 277.2,370.7 278.0,372.0 278.7,373.2 279.4,374.2 280.0,375.2 280.6,376.3 281.3,377.6 282.0,379.0 282.8,380.7 283.6,382.5 284.4,384.4 285.2,386.5 286.1,388.7 287.0,391.0 287.9,393.4 288.9,396.0 289.9,398.8 291.0,401.5 292.0,404.3 293.0,407.0 294.0,409.7 295.0,412.3 296.0,415.0 297.0,417.7 298.0,420.3 299.0,423.0 300.0,425.7 301.0,428.5 302.0,431.2 303.0,434.0 304.0,436.6 305.0,439.0 306.0,441.3 307.0,443.5 308.0,445.6 309.0,447.5 310.0,449.3 311.0,451.0 312.0,452.5 313.0,453.9 314.1,455.1 315.1,456.2 316.1,457.2 317.0,458.0 317.9,458.7 318.7,459.2 319.5,459.6 320.3,459.9 321.1,460.0 322.0,460.0 322.9,459.9 323.9,459.6 324.9,459.2 326.0,458.7 327.0,458.0 328.0,457.0 329.0,455.8 330.0,454.3 331.0,452.7 332.0,450.9 333.0,449.0 334.0,447.0 335.0,444.9 336.0,442.7 337.0,440.4 338.0,438.0 339.0,435.5 340.0,433.0 341.0,430.4 342.0,427.7 343.0,425.0 344.0,422.3 345.0,419.6 346.0,417.0 347.0,414.6 348.0,412.2 349.0,409.9 350.0,407.6 351.0,405.3 352.0,403.0 353.0,400.7 354.0,398.4 355.1,396.1 356.1,393.7 357.1,391.4 358.0,389.0 358.9,386.5 359.8,383.8 360.6,381.1 361.4,378.5 362.2,376.1 363.0,374.0 363.7,372.3 364.4,370.8 365.1,369.5 365.7,368.3 366.3,367.2 367.0,366.0 367.7,364.8 368.3,363.6 369.0,362.4 369.7,361.3 370.3,360.2 371.0,359.0 371.6,357.8 372.3,356.7 372.9,355.6 373.5,354.4 374.2,353.2 375.0,352.0 376.0,350.6 377.1,349.1 378.2,347.6 379.4,346.1 380.3,344.9 381.0,344.0"/>
<path class="au" d="M228.5 283.0V466.5H380.8"/>
<path class="ax" d="M228.5 283.0V466.5H380.8"/>
<path class="tk" d="M228.5 466.5v-2M228.5 283.5h2M266.5 466.5v-2M228.5 329.5h2M304.5 466.5v-2M228.5 374.5h2M343.5 466.5v-2M228.5 420.5h2M381.5 466.5v-2M228.5 466.5h2"/>
<text class="t yt" transform="translate(224.2 287.9) scale(1 1.14)">1</text>
<text class="t yt" transform="translate(224.2 333.6) scale(1 1.14)">0.5</text>
<text class="t yt" transform="translate(224.2 379.4) scale(1 1.14)">0</text>
<text class="t yt" transform="translate(224.2 425.1) scale(1 1.14)">-0.5</text>
<text class="t yt" transform="translate(224.2 470.9) scale(1 1.14)">-1</text>
<text class="t xt" transform="translate(225.7 481.0) scale(1 1.14)">-8</text>
<text class="t xt" transform="translate(263.9 481.0) scale(1 1.14)">-4</text>
<text class="t xt" transform="translate(303.7 481.0) scale(1 1.14)">0</text>
<text class="t xt" transform="translate(341.9 481.0) scale(1 1.14)">4</text>
<text class="t xt" transform="translate(380.2 481.0) scale(1 1.14)">8</text>
<text class="ti" transform="translate(304.0 275.1) scale(1 1.22)">Nom. Trend</text>
</g>
<g>
<line class="vl" x1="505.5" y1="283.0" x2="505.5" y2="466.0"/>
<polygon class="lb" points="428.5,313.0 429.4,313.2 430.7,313.5 432.2,313.9 433.9,314.3 435.5,314.6 437.0,315.0 438.3,315.3 439.6,315.6 440.9,315.9 442.2,316.3 443.6,316.6 445.0,317.0 446.6,317.4 448.2,317.9 449.9,318.4 451.6,318.9 453.3,319.4 455.0,320.0 456.7,320.6 458.3,321.2 460.0,321.9 461.7,322.6 463.3,323.3 465.0,324.0 466.7,324.7 468.4,325.5 470.1,326.2 471.8,327.1 473.4,328.0 475.0,329.0 476.5,330.1 477.9,331.4 479.2,332.8 480.6,334.1 481.8,335.6 483.0,337.0 484.1,338.4 485.1,339.9 486.1,341.3 487.1,342.9 488.0,344.4 489.0,346.0 490.0,347.7 491.0,349.4 492.0,351.2 493.0,353.1 494.0,354.8 495.0,356.5 496.0,358.1 497.0,359.7 498.0,361.2 499.0,362.7 500.0,364.2 501.0,365.5 502.0,366.8 502.9,367.9 503.9,369.0 504.9,370.1 505.9,371.1 507.0,372.0 508.2,372.9 509.5,373.8 510.9,374.7 512.3,375.4 513.6,376.0 515.0,376.5 516.3,376.8 517.7,377.1 519.0,377.2 520.3,377.1 521.7,376.9 523.0,376.5 524.4,375.8 525.7,374.9 527.1,373.8 528.5,372.5 529.8,371.2 531.0,370.0 532.1,368.8 533.1,367.5 534.1,366.2 535.1,364.8 536.0,363.4 537.0,362.0 538.0,360.6 539.0,359.1 540.0,357.6 541.0,356.0 542.0,354.5 543.0,353.0 544.0,351.5 545.0,349.9 546.0,348.4 547.0,346.9 548.0,345.4 549.0,344.0 550.0,342.7 550.9,341.5 551.9,340.3 552.9,339.2 553.9,338.1 555.0,337.0 556.2,335.9 557.5,334.9 558.9,333.8 560.3,332.8 561.6,331.9 563.0,331.0 564.3,330.2 565.6,329.5 566.9,328.8 568.2,328.2 569.6,327.6 571.0,327.0 572.7,326.4 574.6,325.8 576.5,325.2 578.3,324.7 579.9,324.3 581.6,324.0 581.6,397.0 579.9,397.6 578.3,398.5 576.5,399.5 574.6,400.6 572.7,401.8 571.0,403.0 569.6,404.2 568.2,405.4 566.9,406.8 565.6,408.1 564.3,409.5 563.0,411.0 561.7,412.6 560.3,414.2 559.0,415.9 557.7,417.7 556.3,419.4 555.0,421.0 553.7,422.6 552.3,424.1 551.0,425.6 549.7,427.0 548.3,428.5 547.0,430.0 545.7,431.5 544.3,433.1 543.0,434.6 541.7,436.1 540.3,437.6 539.0,439.0 537.7,440.3 536.3,441.6 535.0,442.9 533.7,444.0 532.3,445.1 531.0,446.0 529.7,446.8 528.4,447.4 527.1,447.9 525.8,448.4 524.4,448.7 523.0,449.0 521.4,449.2 519.7,449.4 518.0,449.4 516.3,449.4 514.6,449.3 513.0,449.0 511.6,448.6 510.2,448.0 508.9,447.4 507.6,446.6 506.3,445.8 505.0,445.0 503.6,444.1 502.3,443.1 500.9,442.1 499.5,441.1 498.2,440.0 497.0,439.0 495.9,438.0 494.9,437.0 493.9,436.0 492.9,435.0 492.0,434.0 491.0,433.0 490.0,432.0 489.1,431.1 488.2,430.2 487.3,429.3 486.2,428.2 485.0,427.0 483.6,425.6 482.0,423.9 480.2,422.2 478.5,420.4 476.7,418.7 475.0,417.0 473.3,415.4 471.7,413.9 470.0,412.4 468.3,410.9 466.7,409.4 465.0,408.0 463.3,406.6 461.7,405.2 460.0,403.8 458.3,402.5 456.7,401.2 455.0,400.0 453.3,398.9 451.6,397.8 449.9,396.8 448.2,395.8 446.6,394.9 445.0,394.0 443.6,393.2 442.2,392.4 440.9,391.8 439.6,391.1 438.3,390.5 437.0,390.0 435.5,389.5 433.9,389.1 432.2,388.8 430.7,388.4 429.4,388.2 428.5,388.0"/>
<line class="vf" x1="505.5" y1="371.2" x2="505.5" y2="444.0"/>
<polygon class="db" points="428.5,328.0 429.4,328.2 430.7,328.5 432.2,328.8 433.9,329.2 435.5,329.6 437.0,330.0 438.3,330.4 439.6,330.9 440.9,331.4 442.2,331.9 443.6,332.4 445.0,333.0 446.6,333.6 448.2,334.3 449.9,334.9 451.6,335.6 453.3,336.3 455.0,337.0 456.7,337.6 458.4,338.3 460.1,338.9 461.8,339.5 463.4,340.2 465.0,341.0 466.5,341.9 467.9,342.8 469.2,343.8 470.6,344.8 471.8,345.9 473.0,347.0 474.1,348.2 475.1,349.6 476.1,350.9 477.1,352.3 478.0,353.7 479.0,355.0 480.0,356.2 481.0,357.3 482.0,358.4 483.0,359.6 484.0,360.7 485.0,362.0 486.0,363.4 487.0,364.8 488.0,366.2 489.0,367.8 490.0,369.4 491.0,371.0 492.0,372.7 493.0,374.6 494.0,376.5 495.0,378.4 496.0,380.3 497.0,382.0 498.0,383.6 499.0,385.2 500.0,386.8 501.0,388.2 502.0,389.6 503.0,391.0 504.0,392.3 505.0,393.6 506.0,394.9 507.0,396.0 508.0,397.1 509.0,398.0 510.0,398.8 510.9,399.4 511.9,399.9 512.9,400.4 513.9,400.7 515.0,401.0 516.2,401.2 517.6,401.4 519.0,401.4 520.4,401.4 521.8,401.2 523.0,401.0 524.1,400.7 525.1,400.3 526.1,399.8 527.1,399.2 528.0,398.4 529.0,397.5 530.0,396.4 531.0,395.0 532.0,393.5 533.0,392.0 534.0,390.4 535.0,389.0 536.0,387.6 537.0,386.3 538.0,385.0 539.0,383.6 540.0,382.3 541.0,381.0 542.0,379.7 543.0,378.4 544.0,377.1 545.0,375.7 546.0,374.4 547.0,373.0 548.0,371.5 549.0,370.0 550.0,368.4 551.0,366.9 552.0,365.4 553.0,364.0 554.0,362.7 555.0,361.4 556.0,360.2 557.0,359.1 558.0,358.0 559.0,357.0 560.0,356.0 561.0,355.1 562.0,354.3 563.0,353.5 564.0,352.8 565.0,352.0 566.0,351.3 566.9,350.7 567.8,350.1 568.7,349.4 569.8,348.8 571.0,348.0 572.6,347.0 574.4,345.9 576.4,344.8 578.3,343.6 579.9,342.7 581.6,342.0 581.6,380.0 580.1,380.4 578.9,381.0 577.5,381.6 576.0,382.4 574.4,383.2 573.0,384.0 571.6,384.9 570.3,385.8 568.9,386.8 567.5,387.9 566.2,388.9 565.0,390.0 563.9,391.1 562.9,392.2 561.9,393.4 560.9,394.6 560.0,395.8 559.0,397.0 558.0,398.3 557.0,399.6 556.0,400.9 555.0,402.3 554.0,403.7 553.0,405.0 552.0,406.3 551.0,407.7 550.0,409.0 549.0,410.3 548.0,411.7 547.0,413.0 546.0,414.4 545.0,415.7 544.0,417.1 543.0,418.5 542.0,419.8 541.0,421.0 540.0,422.1 539.0,423.1 538.0,424.1 537.0,425.0 536.0,426.0 535.0,427.0 534.0,428.1 533.0,429.4 532.0,430.7 531.0,431.9 530.0,433.0 529.0,434.0 528.0,434.8 527.1,435.6 526.1,436.2 525.1,436.7 524.1,437.2 523.0,437.5 521.8,437.7 520.4,437.8 519.0,437.7 517.6,437.6 516.2,437.4 515.0,437.2 513.9,436.9 512.9,436.6 511.9,436.1 510.9,435.7 510.0,435.1 509.0,434.5 508.0,433.8 507.0,433.1 506.0,432.3 505.0,431.4 504.0,430.5 503.0,429.5 502.0,428.4 501.0,427.2 500.0,425.9 499.0,424.6 498.0,423.3 497.0,422.0 496.0,420.7 495.0,419.4 494.0,418.1 493.0,416.8 492.0,415.4 491.0,414.0 490.0,412.6 489.1,411.2 488.2,409.8 487.3,408.3 486.2,406.7 485.0,405.0 483.6,403.2 482.0,401.1 480.2,399.1 478.5,397.0 476.7,394.9 475.0,393.0 473.3,391.2 471.7,389.4 470.0,387.6 468.3,386.0 466.7,384.4 465.0,383.0 463.3,381.8 461.7,380.6 460.0,379.7 458.3,378.7 456.7,377.9 455.0,377.0 453.3,376.1 451.6,375.3 449.9,374.6 448.2,373.8 446.6,373.1 445.0,372.5 443.6,371.9 442.2,371.4 440.9,370.9 439.6,370.4 438.3,370.0 437.0,369.5 435.5,369.0 433.9,368.5 432.2,368.1 430.7,367.6 429.4,367.3 428.5,367.0"/>
<clipPath id="c6"><polygon points="428.5,328.0 429.4,328.2 430.7,328.5 432.2,328.8 433.9,329.2 435.5,329.6 437.0,330.0 438.3,330.4 439.6,330.9 440.9,331.4 442.2,331.9 443.6,332.4 445.0,333.0 446.6,333.6 448.2,334.3 449.9,334.9 451.6,335.6 453.3,336.3 455.0,337.0 456.7,337.6 458.4,338.3 460.1,338.9 461.8,339.5 463.4,340.2 465.0,341.0 466.5,341.9 467.9,342.8 469.2,343.8 470.6,344.8 471.8,345.9 473.0,347.0 474.1,348.2 475.1,349.6 476.1,350.9 477.1,352.3 478.0,353.7 479.0,355.0 480.0,356.2 481.0,357.3 482.0,358.4 483.0,359.6 484.0,360.7 485.0,362.0 486.0,363.4 487.0,364.8 488.0,366.2 489.0,367.8 490.0,369.4 491.0,371.0 492.0,372.7 493.0,374.6 494.0,376.5 495.0,378.4 496.0,380.3 497.0,382.0 498.0,383.6 499.0,385.2 500.0,386.8 501.0,388.2 502.0,389.6 503.0,391.0 504.0,392.3 505.0,393.6 506.0,394.9 507.0,396.0 508.0,397.1 509.0,398.0 510.0,398.8 510.9,399.4 511.9,399.9 512.9,400.4 513.9,400.7 515.0,401.0 516.2,401.2 517.6,401.4 519.0,401.4 520.4,401.4 521.8,401.2 523.0,401.0 524.1,400.7 525.1,400.3 526.1,399.8 527.1,399.2 528.0,398.4 529.0,397.5 530.0,396.4 531.0,395.0 532.0,393.5 533.0,392.0 534.0,390.4 535.0,389.0 536.0,387.6 537.0,386.3 538.0,385.0 539.0,383.6 540.0,382.3 541.0,381.0 542.0,379.7 543.0,378.4 544.0,377.1 545.0,375.7 546.0,374.4 547.0,373.0 548.0,371.5 549.0,370.0 550.0,368.4 551.0,366.9 552.0,365.4 553.0,364.0 554.0,362.7 555.0,361.4 556.0,360.2 557.0,359.1 558.0,358.0 559.0,357.0 560.0,356.0 561.0,355.1 562.0,354.3 563.0,353.5 564.0,352.8 565.0,352.0 566.0,351.3 566.9,350.7 567.8,350.1 568.7,349.4 569.8,348.8 571.0,348.0 572.6,347.0 574.4,345.9 576.4,344.8 578.3,343.6 579.9,342.7 581.6,342.0 581.6,380.0 580.1,380.4 578.9,381.0 577.5,381.6 576.0,382.4 574.4,383.2 573.0,384.0 571.6,384.9 570.3,385.8 568.9,386.8 567.5,387.9 566.2,388.9 565.0,390.0 563.9,391.1 562.9,392.2 561.9,393.4 560.9,394.6 560.0,395.8 559.0,397.0 558.0,398.3 557.0,399.6 556.0,400.9 555.0,402.3 554.0,403.7 553.0,405.0 552.0,406.3 551.0,407.7 550.0,409.0 549.0,410.3 548.0,411.7 547.0,413.0 546.0,414.4 545.0,415.7 544.0,417.1 543.0,418.5 542.0,419.8 541.0,421.0 540.0,422.1 539.0,423.1 538.0,424.1 537.0,425.0 536.0,426.0 535.0,427.0 534.0,428.1 533.0,429.4 532.0,430.7 531.0,431.9 530.0,433.0 529.0,434.0 528.0,434.8 527.1,435.6 526.1,436.2 525.1,436.7 524.1,437.2 523.0,437.5 521.8,437.7 520.4,437.8 519.0,437.7 517.6,437.6 516.2,437.4 515.0,437.2 513.9,436.9 512.9,436.6 511.9,436.1 510.9,435.7 510.0,435.1 509.0,434.5 508.0,433.8 507.0,433.1 506.0,432.3 505.0,431.4 504.0,430.5 503.0,429.5 502.0,428.4 501.0,427.2 500.0,425.9 499.0,424.6 498.0,423.3 497.0,422.0 496.0,420.7 495.0,419.4 494.0,418.1 493.0,416.8 492.0,415.4 491.0,414.0 490.0,412.6 489.1,411.2 488.2,409.8 487.3,408.3 486.2,406.7 485.0,405.0 483.6,403.2 482.0,401.1 480.2,399.1 478.5,397.0 476.7,394.9 475.0,393.0 473.3,391.2 471.7,389.4 470.0,387.6 468.3,386.0 466.7,384.4 465.0,383.0 463.3,381.8 461.7,380.6 460.0,379.7 458.3,378.7 456.7,377.9 455.0,377.0 453.3,376.1 451.6,375.3 449.9,374.6 448.2,373.8 446.6,373.1 445.0,372.5 443.6,371.9 442.2,371.4 440.9,370.9 439.6,370.4 438.3,370.0 437.0,369.5 435.5,369.0 433.9,368.5 432.2,368.1 430.7,367.6 429.4,367.3 428.5,367.0"/></clipPath>
<g clip-path="url(#c6)"><line class="zl" x1="430.0" y1="375.5" x2="581.0" y2="375.5"/><line class="zv" x1="505.5" y1="284.0" x2="505.5" y2="466.0"/></g>
<polyline class="yl" points="428.5,347.0 429.4,347.3 430.7,347.8 432.2,348.3 433.9,348.9 435.5,349.5 437.0,350.0 438.4,350.5 439.7,351.0 441.0,351.5 442.4,352.0 443.7,352.5 445.0,353.0 446.3,353.5 447.7,354.0 449.0,354.4 450.3,354.9 451.7,355.4 453.0,356.0 454.4,356.6 455.7,357.2 457.1,357.9 458.5,358.6 459.8,359.3 461.0,360.0 462.1,360.8 463.1,361.6 464.1,362.4 465.1,363.2 466.0,364.1 467.0,365.0 468.0,365.9 469.0,366.9 470.0,367.9 471.0,368.9 472.0,369.9 473.0,371.0 474.0,372.1 475.0,373.2 476.0,374.4 477.0,375.6 478.0,376.8 479.0,378.0 480.0,379.2 481.0,380.4 482.0,381.6 483.0,382.8 484.0,384.1 485.0,385.5 486.0,387.0 487.0,388.6 488.0,390.2 489.0,391.8 490.0,393.5 491.0,395.0 492.0,396.5 493.0,397.9 494.0,399.3 495.0,400.7 496.0,402.1 497.0,403.5 498.0,404.9 499.0,406.4 500.0,407.8 501.0,409.3 502.0,410.7 503.0,412.0 504.0,413.3 505.0,414.6 506.0,415.8 507.0,416.9 508.0,418.0 509.0,419.0 510.0,419.9 511.0,420.7 511.9,421.4 512.9,422.1 513.9,422.6 515.0,423.0 516.1,423.3 517.3,423.5 518.4,423.6 519.6,423.5 520.8,423.3 522.0,423.0 523.2,422.5 524.4,421.8 525.6,421.0 526.7,420.1 527.9,419.1 529.0,418.0 530.1,416.8 531.1,415.6 532.1,414.2 533.0,412.8 534.0,411.4 535.0,410.0 536.0,408.7 537.0,407.3 538.0,406.0 539.0,404.7 540.0,403.3 541.0,402.0 542.0,400.7 543.0,399.3 544.0,398.0 545.0,396.7 546.0,395.3 547.0,394.0 548.0,392.7 549.0,391.3 550.0,389.9 551.0,388.6 552.0,387.3 553.0,386.0 554.0,384.8 555.0,383.6 556.0,382.4 557.0,381.2 558.0,380.1 559.0,379.0 560.0,378.0 560.9,377.0 561.9,376.0 562.9,375.0 563.9,374.0 565.0,373.0 566.2,371.9 567.5,370.7 568.9,369.5 570.3,368.3 571.6,367.1 573.0,366.0 574.4,364.9 576.0,363.7 577.5,362.6 578.9,361.5 580.1,360.6 581.0,360.0"/>
<polyline class="yd" points="428.5,347.0 429.4,347.3 430.7,347.8 432.2,348.3 433.9,348.9 435.5,349.5 437.0,350.0 438.4,350.5 439.7,351.0 441.0,351.5 442.4,352.0 443.7,352.5 445.0,353.0 446.3,353.5 447.7,354.0 449.0,354.4 450.3,354.9 451.7,355.4 453.0,356.0 454.4,356.6 455.7,357.2 457.1,357.9 458.5,358.6 459.8,359.3 461.0,360.0 462.1,360.8 463.1,361.6 464.1,362.4 465.1,363.2 466.0,364.1 467.0,365.0 468.0,365.9 469.0,366.9 470.0,367.9 471.0,368.9 472.0,369.9 473.0,371.0 474.0,372.1 475.0,373.2 476.0,374.4 477.0,375.6 478.0,376.8 479.0,378.0 480.0,379.2 481.0,380.4 482.0,381.6 483.0,382.8 484.0,384.1 485.0,385.5 486.0,387.0 487.0,388.6 488.0,390.2 489.0,391.8 490.0,393.5 491.0,395.0 492.0,396.5 493.0,397.9 494.0,399.3 495.0,400.7 496.0,402.1 497.0,403.5 498.0,404.9 499.0,406.4 500.0,407.8 501.0,409.3 502.0,410.7 503.0,412.0 504.0,413.3 505.0,414.6 506.0,415.8 507.0,416.9 508.0,418.0 509.0,419.0 510.0,419.9 511.0,420.7 511.9,421.4 512.9,422.1 513.9,422.6 515.0,423.0 516.1,423.3 517.3,423.5 518.4,423.6 519.6,423.5 520.8,423.3 522.0,423.0 523.2,422.5 524.4,421.8 525.6,421.0 526.7,420.1 527.9,419.1 529.0,418.0 530.1,416.8 531.1,415.6 532.1,414.2 533.0,412.8 534.0,411.4 535.0,410.0 536.0,408.7 537.0,407.3 538.0,406.0 539.0,404.7 540.0,403.3 541.0,402.0 542.0,400.7 543.0,399.3 544.0,398.0 545.0,396.7 546.0,395.3 547.0,394.0 548.0,392.7 549.0,391.3 550.0,389.9 551.0,388.6 552.0,387.3 553.0,386.0 554.0,384.8 555.0,383.6 556.0,382.4 557.0,381.2 558.0,380.1 559.0,379.0 560.0,378.0 560.9,377.0 561.9,376.0 562.9,375.0 563.9,374.0 565.0,373.0 566.2,371.9 567.5,370.7 568.9,369.5 570.3,368.3 571.6,367.1 573.0,366.0 574.4,364.9 576.0,363.7 577.5,362.6 578.9,361.5 580.1,360.6 581.0,360.0"/>
<path class="au" d="M428.5 283.0V466.5H580.8"/>
<path class="ax" d="M428.5 283.0V466.5H580.8"/>
<path class="tk" d="M428.5 466.5v-2M428.5 283.5h2M466.5 466.5v-2M428.5 329.5h2M504.5 466.5v-2M428.5 374.5h2M543.5 466.5v-2M428.5 420.5h2M581.5 466.5v-2M428.5 466.5h2"/>
<text class="t yt" transform="translate(424.2 287.9) scale(1 1.14)">1</text>
<text class="t yt" transform="translate(424.2 333.6) scale(1 1.14)">0.5</text>
<text class="t yt" transform="translate(424.2 379.4) scale(1 1.14)">0</text>
<text class="t yt" transform="translate(424.2 425.1) scale(1 1.14)">-0.5</text>
<text class="t yt" transform="translate(424.2 470.9) scale(1 1.14)">-1</text>
<text class="t xt" transform="translate(425.7 481.0) scale(1 1.14)">-8</text>
<text class="t xt" transform="translate(463.9 481.0) scale(1 1.14)">-4</text>
<text class="t xt" transform="translate(503.7 481.0) scale(1 1.14)">0</text>
<text class="t xt" transform="translate(542.0 481.0) scale(1 1.14)">4</text>
<text class="t xt" transform="translate(580.2 481.0) scale(1 1.14)">8</text>
<text class="ti b" transform="translate(506.0 275.1) scale(1 1.22)">Total</text>
</g>
<text class="cap" x="295.5" y="506.5">(b) Conditional Correlations</text>
</svg></body></html>
